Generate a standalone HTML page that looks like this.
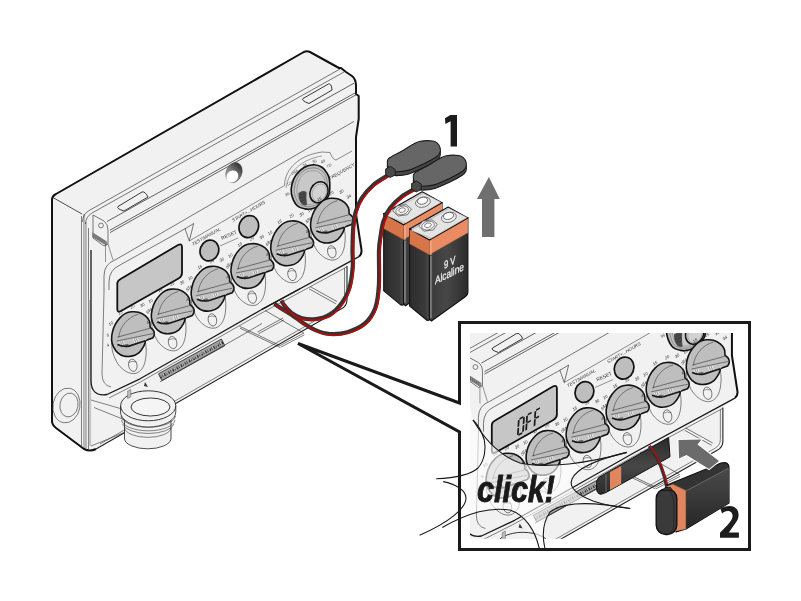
<!DOCTYPE html>
<html><head><meta charset="utf-8"><style>
html,body{margin:0;padding:0;background:#fff;width:801px;height:601px;overflow:hidden}
svg{display:block;font-family:"Liberation Sans",sans-serif;will-change:transform}
</style></head><body>
<svg width="801" height="601" viewBox="0 0 801 601" font-family="Liberation Sans, sans-serif">
<defs>
<linearGradient id="hg" x1="0.3" y1="0" x2="0" y2="1"><stop offset="0" stop-color="#3c3c3c"/><stop offset="0.6" stop-color="#999"/><stop offset="1" stop-color="#ddd"/></linearGradient>
<linearGradient id="bd2" x1="0" y1="0" x2="0" y2="1"><stop offset="0" stop-color="#2a2a2a"/><stop offset="0.5" stop-color="#474747"/><stop offset="1" stop-color="#2a2a2a"/></linearGradient>
<linearGradient id="bd3" x1="0" y1="0" x2="0" y2="1"><stop offset="0" stop-color="#4a4a4a"/><stop offset="0.4" stop-color="#3c3c3c"/><stop offset="1" stop-color="#262626"/></linearGradient>
<linearGradient id="bd" x1="0" y1="0" x2="1" y2="0"><stop offset="0" stop-color="#555"/><stop offset="0.1" stop-color="#3c3c3c"/><stop offset="0.45" stop-color="#474747"/><stop offset="1" stop-color="#2c2c2c"/></linearGradient>
<linearGradient id="bl" x1="0" y1="0" x2="1" y2="0"><stop offset="0" stop-color="#2c2c2c"/><stop offset="0.8" stop-color="#3a3a3a"/><stop offset="1" stop-color="#505050"/></linearGradient>
</defs>
<rect width="801" height="601" fill="#fff"/>
<path d="M52,200 Q52,196 56,194 L302,53 Q306,50 310,52 L339,68 L341,68 L346,72 L352,76 Q356,79 356,86 L356,94 L358.7,96 L358.7,119 L356,137 L356,214 L361.5,250 Q362,254 359,256.5 L347,266 L347,300 Q347,306 341,309 L96,449 Q90,452 84,449 L56,428 Q52,425 52,421 Z" fill="#f1f1f1"/>
<path d="M96,449 Q90,452 84,449 L56,428 Q52,425 52,421 L52,200 Q52,196 56,194 L302,53 Q306,50 310,52 L339,68 L341,68 L346,72 L352,76 Q356,79 356,86 L356,94 L358.7,96 L358.7,119 L356,137 L356,214 L361.5,250 Q362,254 359,256.5" fill="none" stroke="#111" stroke-width="2" stroke-linejoin="round"/>
<path d="M96,449 L341,309 Q347,306 347,300 L347,266" fill="none" stroke="#222" stroke-width="1.1"/>
<path d="M100,444 L338,307.5 Q344.5,304 344.5,298 L344.5,268" fill="none" stroke="#333" stroke-width="0.6"/>
<path d="M52.0,197.0 L82.0,214.0" stroke="#222" stroke-width="0.8" fill="none"/>
<path d="M81.5,216 L81.5,447 M84,214 L84,448 M86,222 L86,448 M88.5,228 L88.5,449" stroke="#333" stroke-width="0.6" fill="none"/>
<path d="M90,300 L90,446" stroke="#c4c4c4" stroke-width="2.2" fill="none"/>
<ellipse cx="66.5" cy="405.5" rx="13.5" ry="17.5" transform="rotate(10 66.5 405.5)" fill="none" stroke="#333" stroke-width="0.6"/>
<ellipse cx="69" cy="405" rx="9" ry="12" transform="rotate(10 69 405)" fill="none" stroke="#333" stroke-width="0.6"/>
<path d="M82.5,222 Q82.5,214 90,210 L340,69" stroke="#222" stroke-width="0.6" fill="none"/>
<path d="M85.5,224 Q85.5,217 92,213 L344,72" stroke="#222" stroke-width="0.6" fill="none"/>
<path d="M107.0,221.5 L354.0,83.2" stroke="#222" stroke-width="0.7" fill="none"/>
<path d="M110.0,230.2 L356.0,92.4" stroke="#222" stroke-width="0.7" fill="none"/>
<path d="M110.0,232.6 L356.0,94.8" stroke="#222" stroke-width="0.7" fill="none"/>
<path d="M93,215 L104,221 Q108,224 108,230 L108,244 L104,246 L93,238 Z" fill="#f1f1f1" stroke="#222" stroke-width="0.6"/>
<circle cx="101" cy="225.5" r="2.4" fill="none" stroke="#333" stroke-width="0.6"/>
<path d="M92,232 L107,241.5 L107,246 L92,237 Z" fill="#8a8a8a"/>
<path d="M94,233.5 L94,237.5 M96,234.8 L96,238.8 M98,236 L98,240 M100,237.3 L100,241.3 M102,238.6 L102,242.6 M104,239.9 L104,243.9" stroke="#444" stroke-width="0.5"/>
<path d="M118,206.5 L142,192 Q145,191 148,197 L124,211 Q116,208.5 118,206.5 Z" fill="#f1f1f1" stroke="#222" stroke-width="0.9"/>
<path d="M303,98.5 L328.4,84 Q331.4,83 332.1,90 L309,103.5 Q301,100.5 303,98.5 Z" fill="#f1f1f1" stroke="#222" stroke-width="0.9"/>
<ellipse cx="234" cy="172.6" rx="7.8" ry="10.4" transform="rotate(22 234 172.6)" fill="url(#hg)" stroke="#444" stroke-width="0.5"/>
<ellipse cx="232.3" cy="176.5" rx="5.6" ry="6.4" transform="rotate(40 232.3 176.5)" fill="#fff"/>
<path d="M104,292 L104,276 Q104,264 115,260 L354,121.4" fill="none" stroke="#222" stroke-width="0.6"/>
<path d="M109,290 L109,282 Q109,270 120,265 L186,228.2" fill="none" stroke="#222" stroke-width="0.6"/>
<path d="M185,228.8 L193.7,223.5 L189.3,241 Z" fill="#f1f1f1" stroke="#222" stroke-width="0.6" stroke-linejoin="round"/>
<path d="M108,244 L113,260 M105.5,244 L105.5,262" fill="none" stroke="#333" stroke-width="0.5"/>
<path d="M91,250 L91,380 Q91,397 107,394.5 L140,378.8 L200,344.8 L260,310.5 L359,256.6" fill="none" stroke="#1a1a1a" stroke-width="1.3" stroke-linejoin="round"/>
<path d="M104,292 L102,374 Q102,385 111,387" fill="none" stroke="#333" stroke-width="0.6"/>
<path d="M109,398 L140,382.2 L200,348.2 L260,313.9 L347,266.8" fill="none" stroke="#333" stroke-width="0.6"/>
<path d="M189.3,241 L284.5,185.5 C285,168 300,155 322,152 L330,152.5 Q333,160 336,160 L352,151" fill="none" stroke="#333" stroke-width="0.55"/>
<path d="M286,188 C288,171 303,159 322,156" fill="none" stroke="#333" stroke-width="0.45"/>
<path d="M121,278.8 L178,245 Q182,243 182,247 L182,273 Q182,276.5 178.5,278.5 L121,311 Q117.3,313 117.3,309 L117.3,283.5 Q117.3,280.8 121,278.8 Z" fill="#c6c6c6" stroke="#111" stroke-width="1.8"/>
<ellipse cx="209.4" cy="250.5" rx="9.2" ry="10.6" transform="rotate(20 209.4 250.5)" fill="#bebebe" stroke="#111" stroke-width="1.7"/>
<ellipse cx="248.8" cy="226.6" rx="9.6" ry="11.2" transform="rotate(20 248.8 226.6)" fill="#bebebe" stroke="#111" stroke-width="1.7"/>
<text transform="translate(193,246) rotate(-30)" font-size="4.6" fill="#333" font-style="italic">TEST/MANUAL</text>
<text transform="translate(222,240) rotate(-24)" font-size="5" fill="#333">RESET</text>
<path d="M220,246 L238,238" stroke="#333" stroke-width="0.5"/>
<text transform="translate(233,222) rotate(-30)" font-size="4.6" fill="#333" font-style="italic">START+...HOURS</text>
<text transform="translate(330,180) rotate(-30)" font-size="4.6" fill="#333" font-style="italic">FREQUENCY</text>
<path d="M291.40,193.70 C292.20,197.25 294.53,202.77 296.80,205.30 C299.07,207.83 302.30,208.37 305.00,208.90 C307.70,209.43 310.17,209.32 313.00,208.50 C315.83,207.68 319.42,206.08 322.00,204.00 C324.58,201.92 327.20,198.67 328.50,196.00 C329.80,193.33 329.67,190.88 329.80,188.00 C329.93,185.12 329.73,181.12 329.30,178.70 C328.87,176.28 328.42,175.42 327.20,173.50 C325.98,171.58 324.28,168.65 322.00,167.20 C319.72,165.75 316.50,164.75 313.50,164.80 C310.50,164.85 306.92,165.80 304.00,167.50 C301.08,169.20 298.00,172.25 296.00,175.00 C294.00,177.75 292.77,180.88 292.00,184.00 C291.23,187.12 290.60,190.15 291.40,193.70 Z" fill="#bdbdbd" stroke="#111" stroke-width="1.6"/>
<path d="M294.50,193.50 C295.13,196.58 296.88,201.33 298.80,203.50 C300.72,205.67 303.63,206.08 306.00,206.50 C308.37,206.92 310.50,206.75 313.00,206.00 C315.50,205.25 318.67,203.92 321.00,202.00 C323.33,200.08 325.92,197.17 327.00,194.50 C328.08,191.83 327.58,188.67 327.50,186.00 C327.42,183.33 327.08,180.67 326.50,178.50 C325.92,176.33 325.33,174.58 324.00,173.00 C322.67,171.42 320.50,169.83 318.50,169.00 C316.50,168.17 314.42,167.75 312.00,168.00 C309.58,168.25 306.33,169.00 304.00,170.50 C301.67,172.00 299.50,174.58 298.00,177.00 C296.50,179.42 295.58,182.25 295.00,185.00 C294.42,187.75 293.87,190.42 294.50,193.50 Z" fill="#c4c4c4" stroke="#666" stroke-width="0.6"/>
<path d="M297.00,193.50 C297.50,196.17 298.92,200.17 300.50,202.00 C302.08,203.83 304.42,204.17 306.50,204.50 C308.58,204.83 310.75,204.67 313.00,204.00 C315.25,203.33 318.00,202.17 320.00,200.50 C322.00,198.83 324.08,196.33 325.00,194.00 C325.92,191.67 325.58,188.92 325.50,186.50 C325.42,184.08 325.08,181.42 324.50,179.50 C323.92,177.58 323.17,176.33 322.00,175.00 C320.83,173.67 319.25,172.20 317.50,171.50 C315.75,170.80 313.58,170.55 311.50,170.80 C309.42,171.05 306.92,171.72 305.00,173.00 C303.08,174.28 301.25,176.33 300.00,178.50 C298.75,180.67 298.00,183.50 297.50,186.00 C297.00,188.50 296.50,190.83 297.00,193.50 Z" fill="#c8c8c8" stroke="#777" stroke-width="0.5"/>
<path d="M298.5,193 Q298,200 302,204.5 Q305,206 307,205 Q306,198 306.5,192 Q303,189.5 298.5,193 Z" fill="#4a4a4a"/>
<path d="M300,195 L305,193.5 M299.5,198 L305.5,196.5 M300.5,201 L306,199.5" stroke="#2a2a2a" stroke-width="0.5"/>
<ellipse cx="319" cy="192.2" rx="8.7" ry="10.8" transform="rotate(25 319 192.2)" fill="#d2d2d2" stroke="#111" stroke-width="1.5"/>
<ellipse cx="319.3" cy="192.6" rx="6.8" ry="8.9" transform="rotate(25 319.3 192.6)" fill="none" stroke="#888" stroke-width="0.5"/>
<text transform="translate(286,196.5) rotate(-30)" font-size="4" fill="#444" font-style="italic">96</text>
<text transform="translate(287.5,186) rotate(-30)" font-size="4" fill="#444" font-style="italic">12A</text>
<text transform="translate(292.5,175) rotate(-30)" font-size="4" fill="#444" font-style="italic">24A</text>
<text transform="translate(303.5,167.5) rotate(-30)" font-size="4" fill="#444" font-style="italic">36</text>
<text transform="translate(313,163.8) rotate(-30)" font-size="4" fill="#444" font-style="italic">36</text>
<text transform="translate(321.5,163.8) rotate(-30)" font-size="4" fill="#444" font-style="italic">48</text>
<text transform="translate(327.5,168) rotate(-30)" font-size="4" fill="#444" font-style="italic">7D</text>
<g transform="translate(132.0,335.0)">
<path d="M-20.20,8.00 C-20.05,9.50 -20.33,13.50 -19.30,17.00 C-18.27,20.50 -16.38,25.67 -14.00,29.00 C-11.62,32.33 -8.00,35.45 -5.00,37.00 C-2.00,38.55 1.42,38.97 4.00,38.30 C6.58,37.63 8.90,35.38 10.50,33.00 C12.10,30.62 12.98,27.17 13.60,24.00 C14.22,20.83 14.27,17.00 14.20,14.00 C14.13,11.00 13.37,7.33 13.20,6.00" fill="none" stroke="#333" stroke-width="0.6"/>
<ellipse cx="0.8" cy="30.3" rx="4.2" ry="6.2" transform="rotate(-12 0.8 30.3)" fill="none" stroke="#333" stroke-width="0.6"/>
<path d="M-3.2,27.5 Q0,25.5 4.5,27" stroke="#333" stroke-width="0.5" fill="none"/>
<path d="M-20.40,5.10 C-20.57,2.68 -20.23,-0.23 -19.60,-2.90 C-18.97,-5.57 -17.93,-8.45 -16.60,-10.90 C-15.27,-13.35 -13.30,-15.82 -11.60,-17.60 C-9.90,-19.38 -8.27,-20.67 -6.40,-21.60 C-4.53,-22.53 -2.57,-23.02 -0.40,-23.20 C1.77,-23.38 4.30,-23.37 6.60,-22.70 C8.90,-22.03 11.60,-20.67 13.40,-19.20 C15.20,-17.73 16.62,-15.78 17.40,-13.90 C18.18,-12.02 18.10,-7.90 18.10,-7.90 C18.10,-7.90 20.90,-5.65 21.60,-4.40 C22.30,-3.15 22.47,-1.65 22.30,-0.40 C22.13,0.85 20.60,3.10 20.60,3.10 C20.60,3.10 13.60,5.60 13.60,5.60 C13.60,5.60 12.93,9.07 11.80,11.10 C10.67,13.13 8.83,16.13 6.80,17.80 C4.77,19.47 2.13,20.57 -0.40,21.10 C-2.93,21.63 -6.07,21.58 -8.40,21.00 C-10.73,20.42 -12.70,19.17 -14.40,17.60 C-16.10,16.03 -17.60,13.68 -18.60,11.60 C-19.60,9.52 -20.23,7.52 -20.40,5.10 Z" fill="#bebebe" stroke="#141414" stroke-width="1.6" stroke-linejoin="round"/>
<path d="M-13.4,2.6 C-12,-9 -4,-18 6.6,-20.9" fill="none" stroke="#333" stroke-width="0.55"/>
<path d="M-14.4,2.1 L18.6,-6.9" stroke="#333" stroke-width="0.6"/>
<path d="M-14.2,6.4 L19.5,-1.2 L13.4,5.7 L-3,10.6 Q-9,11.6 -14.3,9.4 Z" fill="#c4c4c4"/>
<path d="M-12.8,6.6 L-11,9.8 M-10.8,6.1 L-9,10.4 M-8.8,5.7 L-7.2,10.7 M1.3,3.7 L2.8,7.8 M3.3,3.3 L4.8,7.2 M5.3,2.9 L6.6,6.6" stroke="#efefef" stroke-width="0.9"/>
<path d="M-11.8,6.4 L-10,10.1 M-9.8,5.9 L-8.1,10.6 M2.3,3.5 L3.8,7.5 M4.3,3.1 L5.7,6.9" stroke="#666" stroke-width="0.45"/>
<ellipse cx="-5.6" cy="10.2" rx="2.6" ry="1.2" transform="rotate(-8 -5.6 10.2)" fill="#6a6a6a"/>
<path d="M-15.4,6.1 L20.9,-1.4" stroke="#333" stroke-width="0.6"/>
<path d="M-14.6,9.6 Q-9,12.2 -3,11.1 L13.4,5.7" fill="none" stroke="#161616" stroke-width="1.6"/>
</g>
<text transform="translate(109.5,326.0) rotate(-30)" font-size="4.2" font-style="italic" fill="#2a2a2a">10</text>
<text transform="translate(119.0,315.0) rotate(-30)" font-size="4.2" font-style="italic" fill="#2a2a2a">15</text>
<text transform="translate(131.0,309.0) rotate(-30)" font-size="4.2" font-style="italic" fill="#2a2a2a">20</text>
<text transform="translate(141.0,307.5) rotate(-30)" font-size="4.2" font-style="italic" fill="#2a2a2a">30</text>
<text transform="translate(148.5,312.5) rotate(-30)" font-size="4.2" font-style="italic" fill="#2a2a2a">34</text>
<text transform="translate(107.5,337.0) rotate(-30)" font-size="4.2" font-style="italic" fill="#2a2a2a">5</text>
<text transform="translate(107.5,347.0) rotate(-30)" font-size="4.2" font-style="italic" fill="#2a2a2a">4</text>
<g transform="translate(171.8,312.3)">
<path d="M-20.20,8.00 C-20.05,9.50 -20.33,13.50 -19.30,17.00 C-18.27,20.50 -16.38,25.67 -14.00,29.00 C-11.62,32.33 -8.00,35.45 -5.00,37.00 C-2.00,38.55 1.42,38.97 4.00,38.30 C6.58,37.63 8.90,35.38 10.50,33.00 C12.10,30.62 12.98,27.17 13.60,24.00 C14.22,20.83 14.27,17.00 14.20,14.00 C14.13,11.00 13.37,7.33 13.20,6.00" fill="none" stroke="#333" stroke-width="0.6"/>
<ellipse cx="0.8" cy="30.3" rx="4.2" ry="6.2" transform="rotate(-12 0.8 30.3)" fill="none" stroke="#333" stroke-width="0.6"/>
<path d="M-3.2,27.5 Q0,25.5 4.5,27" stroke="#333" stroke-width="0.5" fill="none"/>
<path d="M-20.40,5.10 C-20.57,2.68 -20.23,-0.23 -19.60,-2.90 C-18.97,-5.57 -17.93,-8.45 -16.60,-10.90 C-15.27,-13.35 -13.30,-15.82 -11.60,-17.60 C-9.90,-19.38 -8.27,-20.67 -6.40,-21.60 C-4.53,-22.53 -2.57,-23.02 -0.40,-23.20 C1.77,-23.38 4.30,-23.37 6.60,-22.70 C8.90,-22.03 11.60,-20.67 13.40,-19.20 C15.20,-17.73 16.62,-15.78 17.40,-13.90 C18.18,-12.02 18.10,-7.90 18.10,-7.90 C18.10,-7.90 20.90,-5.65 21.60,-4.40 C22.30,-3.15 22.47,-1.65 22.30,-0.40 C22.13,0.85 20.60,3.10 20.60,3.10 C20.60,3.10 13.60,5.60 13.60,5.60 C13.60,5.60 12.93,9.07 11.80,11.10 C10.67,13.13 8.83,16.13 6.80,17.80 C4.77,19.47 2.13,20.57 -0.40,21.10 C-2.93,21.63 -6.07,21.58 -8.40,21.00 C-10.73,20.42 -12.70,19.17 -14.40,17.60 C-16.10,16.03 -17.60,13.68 -18.60,11.60 C-19.60,9.52 -20.23,7.52 -20.40,5.10 Z" fill="#bebebe" stroke="#141414" stroke-width="1.6" stroke-linejoin="round"/>
<path d="M-13.4,2.6 C-12,-9 -4,-18 6.6,-20.9" fill="none" stroke="#333" stroke-width="0.55"/>
<path d="M-14.4,2.1 L18.6,-6.9" stroke="#333" stroke-width="0.6"/>
<path d="M-14.2,6.4 L19.5,-1.2 L13.4,5.7 L-3,10.6 Q-9,11.6 -14.3,9.4 Z" fill="#c4c4c4"/>
<path d="M-12.8,6.6 L-11,9.8 M-10.8,6.1 L-9,10.4 M-8.8,5.7 L-7.2,10.7 M1.3,3.7 L2.8,7.8 M3.3,3.3 L4.8,7.2 M5.3,2.9 L6.6,6.6" stroke="#efefef" stroke-width="0.9"/>
<path d="M-11.8,6.4 L-10,10.1 M-9.8,5.9 L-8.1,10.6 M2.3,3.5 L3.8,7.5 M4.3,3.1 L5.7,6.9" stroke="#666" stroke-width="0.45"/>
<ellipse cx="-5.6" cy="10.2" rx="2.6" ry="1.2" transform="rotate(-8 -5.6 10.2)" fill="#6a6a6a"/>
<path d="M-15.4,6.1 L20.9,-1.4" stroke="#333" stroke-width="0.6"/>
<path d="M-14.6,9.6 Q-9,12.2 -3,11.1 L13.4,5.7" fill="none" stroke="#161616" stroke-width="1.6"/>
</g>
<text transform="translate(149.3,303.3) rotate(-30)" font-size="4.2" font-style="italic" fill="#2a2a2a">10</text>
<text transform="translate(158.8,292.3) rotate(-30)" font-size="4.2" font-style="italic" fill="#2a2a2a">15</text>
<text transform="translate(170.8,286.3) rotate(-30)" font-size="4.2" font-style="italic" fill="#2a2a2a">20</text>
<text transform="translate(180.8,284.8) rotate(-30)" font-size="4.2" font-style="italic" fill="#2a2a2a">30</text>
<text transform="translate(188.3,289.8) rotate(-30)" font-size="4.2" font-style="italic" fill="#2a2a2a">34</text>
<text transform="translate(147.3,314.3) rotate(-30)" font-size="4.2" font-style="italic" fill="#2a2a2a">5</text>
<text transform="translate(147.3,324.3) rotate(-30)" font-size="4.2" font-style="italic" fill="#2a2a2a">4</text>
<g transform="translate(211.6,289.6)">
<path d="M-20.20,8.00 C-20.05,9.50 -20.33,13.50 -19.30,17.00 C-18.27,20.50 -16.38,25.67 -14.00,29.00 C-11.62,32.33 -8.00,35.45 -5.00,37.00 C-2.00,38.55 1.42,38.97 4.00,38.30 C6.58,37.63 8.90,35.38 10.50,33.00 C12.10,30.62 12.98,27.17 13.60,24.00 C14.22,20.83 14.27,17.00 14.20,14.00 C14.13,11.00 13.37,7.33 13.20,6.00" fill="none" stroke="#333" stroke-width="0.6"/>
<ellipse cx="0.8" cy="30.3" rx="4.2" ry="6.2" transform="rotate(-12 0.8 30.3)" fill="none" stroke="#333" stroke-width="0.6"/>
<path d="M-3.2,27.5 Q0,25.5 4.5,27" stroke="#333" stroke-width="0.5" fill="none"/>
<path d="M-20.40,5.10 C-20.57,2.68 -20.23,-0.23 -19.60,-2.90 C-18.97,-5.57 -17.93,-8.45 -16.60,-10.90 C-15.27,-13.35 -13.30,-15.82 -11.60,-17.60 C-9.90,-19.38 -8.27,-20.67 -6.40,-21.60 C-4.53,-22.53 -2.57,-23.02 -0.40,-23.20 C1.77,-23.38 4.30,-23.37 6.60,-22.70 C8.90,-22.03 11.60,-20.67 13.40,-19.20 C15.20,-17.73 16.62,-15.78 17.40,-13.90 C18.18,-12.02 18.10,-7.90 18.10,-7.90 C18.10,-7.90 20.90,-5.65 21.60,-4.40 C22.30,-3.15 22.47,-1.65 22.30,-0.40 C22.13,0.85 20.60,3.10 20.60,3.10 C20.60,3.10 13.60,5.60 13.60,5.60 C13.60,5.60 12.93,9.07 11.80,11.10 C10.67,13.13 8.83,16.13 6.80,17.80 C4.77,19.47 2.13,20.57 -0.40,21.10 C-2.93,21.63 -6.07,21.58 -8.40,21.00 C-10.73,20.42 -12.70,19.17 -14.40,17.60 C-16.10,16.03 -17.60,13.68 -18.60,11.60 C-19.60,9.52 -20.23,7.52 -20.40,5.10 Z" fill="#bebebe" stroke="#141414" stroke-width="1.6" stroke-linejoin="round"/>
<path d="M-13.4,2.6 C-12,-9 -4,-18 6.6,-20.9" fill="none" stroke="#333" stroke-width="0.55"/>
<path d="M-14.4,2.1 L18.6,-6.9" stroke="#333" stroke-width="0.6"/>
<path d="M-14.2,6.4 L19.5,-1.2 L13.4,5.7 L-3,10.6 Q-9,11.6 -14.3,9.4 Z" fill="#c4c4c4"/>
<path d="M-12.8,6.6 L-11,9.8 M-10.8,6.1 L-9,10.4 M-8.8,5.7 L-7.2,10.7 M1.3,3.7 L2.8,7.8 M3.3,3.3 L4.8,7.2 M5.3,2.9 L6.6,6.6" stroke="#efefef" stroke-width="0.9"/>
<path d="M-11.8,6.4 L-10,10.1 M-9.8,5.9 L-8.1,10.6 M2.3,3.5 L3.8,7.5 M4.3,3.1 L5.7,6.9" stroke="#666" stroke-width="0.45"/>
<ellipse cx="-5.6" cy="10.2" rx="2.6" ry="1.2" transform="rotate(-8 -5.6 10.2)" fill="#6a6a6a"/>
<path d="M-15.4,6.1 L20.9,-1.4" stroke="#333" stroke-width="0.6"/>
<path d="M-14.6,9.6 Q-9,12.2 -3,11.1 L13.4,5.7" fill="none" stroke="#161616" stroke-width="1.6"/>
</g>
<text transform="translate(189.1,280.6) rotate(-30)" font-size="4.2" font-style="italic" fill="#2a2a2a">10</text>
<text transform="translate(198.6,269.6) rotate(-30)" font-size="4.2" font-style="italic" fill="#2a2a2a">15</text>
<text transform="translate(210.6,263.6) rotate(-30)" font-size="4.2" font-style="italic" fill="#2a2a2a">20</text>
<text transform="translate(220.6,262.1) rotate(-30)" font-size="4.2" font-style="italic" fill="#2a2a2a">30</text>
<text transform="translate(228.1,267.1) rotate(-30)" font-size="4.2" font-style="italic" fill="#2a2a2a">34</text>
<text transform="translate(187.1,291.6) rotate(-30)" font-size="4.2" font-style="italic" fill="#2a2a2a">5</text>
<text transform="translate(187.1,301.6) rotate(-30)" font-size="4.2" font-style="italic" fill="#2a2a2a">4</text>
<g transform="translate(251.4,266.9)">
<path d="M-20.20,8.00 C-20.05,9.50 -20.33,13.50 -19.30,17.00 C-18.27,20.50 -16.38,25.67 -14.00,29.00 C-11.62,32.33 -8.00,35.45 -5.00,37.00 C-2.00,38.55 1.42,38.97 4.00,38.30 C6.58,37.63 8.90,35.38 10.50,33.00 C12.10,30.62 12.98,27.17 13.60,24.00 C14.22,20.83 14.27,17.00 14.20,14.00 C14.13,11.00 13.37,7.33 13.20,6.00" fill="none" stroke="#333" stroke-width="0.6"/>
<ellipse cx="0.8" cy="30.3" rx="4.2" ry="6.2" transform="rotate(-12 0.8 30.3)" fill="none" stroke="#333" stroke-width="0.6"/>
<path d="M-3.2,27.5 Q0,25.5 4.5,27" stroke="#333" stroke-width="0.5" fill="none"/>
<path d="M-20.40,5.10 C-20.57,2.68 -20.23,-0.23 -19.60,-2.90 C-18.97,-5.57 -17.93,-8.45 -16.60,-10.90 C-15.27,-13.35 -13.30,-15.82 -11.60,-17.60 C-9.90,-19.38 -8.27,-20.67 -6.40,-21.60 C-4.53,-22.53 -2.57,-23.02 -0.40,-23.20 C1.77,-23.38 4.30,-23.37 6.60,-22.70 C8.90,-22.03 11.60,-20.67 13.40,-19.20 C15.20,-17.73 16.62,-15.78 17.40,-13.90 C18.18,-12.02 18.10,-7.90 18.10,-7.90 C18.10,-7.90 20.90,-5.65 21.60,-4.40 C22.30,-3.15 22.47,-1.65 22.30,-0.40 C22.13,0.85 20.60,3.10 20.60,3.10 C20.60,3.10 13.60,5.60 13.60,5.60 C13.60,5.60 12.93,9.07 11.80,11.10 C10.67,13.13 8.83,16.13 6.80,17.80 C4.77,19.47 2.13,20.57 -0.40,21.10 C-2.93,21.63 -6.07,21.58 -8.40,21.00 C-10.73,20.42 -12.70,19.17 -14.40,17.60 C-16.10,16.03 -17.60,13.68 -18.60,11.60 C-19.60,9.52 -20.23,7.52 -20.40,5.10 Z" fill="#bebebe" stroke="#141414" stroke-width="1.6" stroke-linejoin="round"/>
<path d="M-13.4,2.6 C-12,-9 -4,-18 6.6,-20.9" fill="none" stroke="#333" stroke-width="0.55"/>
<path d="M-14.4,2.1 L18.6,-6.9" stroke="#333" stroke-width="0.6"/>
<path d="M-14.2,6.4 L19.5,-1.2 L13.4,5.7 L-3,10.6 Q-9,11.6 -14.3,9.4 Z" fill="#c4c4c4"/>
<path d="M-12.8,6.6 L-11,9.8 M-10.8,6.1 L-9,10.4 M-8.8,5.7 L-7.2,10.7 M1.3,3.7 L2.8,7.8 M3.3,3.3 L4.8,7.2 M5.3,2.9 L6.6,6.6" stroke="#efefef" stroke-width="0.9"/>
<path d="M-11.8,6.4 L-10,10.1 M-9.8,5.9 L-8.1,10.6 M2.3,3.5 L3.8,7.5 M4.3,3.1 L5.7,6.9" stroke="#666" stroke-width="0.45"/>
<ellipse cx="-5.6" cy="10.2" rx="2.6" ry="1.2" transform="rotate(-8 -5.6 10.2)" fill="#6a6a6a"/>
<path d="M-15.4,6.1 L20.9,-1.4" stroke="#333" stroke-width="0.6"/>
<path d="M-14.6,9.6 Q-9,12.2 -3,11.1 L13.4,5.7" fill="none" stroke="#161616" stroke-width="1.6"/>
</g>
<text transform="translate(228.9,257.9) rotate(-30)" font-size="4.2" font-style="italic" fill="#2a2a2a">10</text>
<text transform="translate(238.4,246.9) rotate(-30)" font-size="4.2" font-style="italic" fill="#2a2a2a">15</text>
<text transform="translate(250.4,240.9) rotate(-30)" font-size="4.2" font-style="italic" fill="#2a2a2a">20</text>
<text transform="translate(260.4,239.4) rotate(-30)" font-size="4.2" font-style="italic" fill="#2a2a2a">30</text>
<text transform="translate(267.9,244.4) rotate(-30)" font-size="4.2" font-style="italic" fill="#2a2a2a">34</text>
<text transform="translate(226.9,268.9) rotate(-30)" font-size="4.2" font-style="italic" fill="#2a2a2a">5</text>
<text transform="translate(226.9,278.9) rotate(-30)" font-size="4.2" font-style="italic" fill="#2a2a2a">4</text>
<g transform="translate(291.2,244.2)">
<path d="M-20.20,8.00 C-20.05,9.50 -20.33,13.50 -19.30,17.00 C-18.27,20.50 -16.38,25.67 -14.00,29.00 C-11.62,32.33 -8.00,35.45 -5.00,37.00 C-2.00,38.55 1.42,38.97 4.00,38.30 C6.58,37.63 8.90,35.38 10.50,33.00 C12.10,30.62 12.98,27.17 13.60,24.00 C14.22,20.83 14.27,17.00 14.20,14.00 C14.13,11.00 13.37,7.33 13.20,6.00" fill="none" stroke="#333" stroke-width="0.6"/>
<ellipse cx="0.8" cy="30.3" rx="4.2" ry="6.2" transform="rotate(-12 0.8 30.3)" fill="none" stroke="#333" stroke-width="0.6"/>
<path d="M-3.2,27.5 Q0,25.5 4.5,27" stroke="#333" stroke-width="0.5" fill="none"/>
<path d="M-20.40,5.10 C-20.57,2.68 -20.23,-0.23 -19.60,-2.90 C-18.97,-5.57 -17.93,-8.45 -16.60,-10.90 C-15.27,-13.35 -13.30,-15.82 -11.60,-17.60 C-9.90,-19.38 -8.27,-20.67 -6.40,-21.60 C-4.53,-22.53 -2.57,-23.02 -0.40,-23.20 C1.77,-23.38 4.30,-23.37 6.60,-22.70 C8.90,-22.03 11.60,-20.67 13.40,-19.20 C15.20,-17.73 16.62,-15.78 17.40,-13.90 C18.18,-12.02 18.10,-7.90 18.10,-7.90 C18.10,-7.90 20.90,-5.65 21.60,-4.40 C22.30,-3.15 22.47,-1.65 22.30,-0.40 C22.13,0.85 20.60,3.10 20.60,3.10 C20.60,3.10 13.60,5.60 13.60,5.60 C13.60,5.60 12.93,9.07 11.80,11.10 C10.67,13.13 8.83,16.13 6.80,17.80 C4.77,19.47 2.13,20.57 -0.40,21.10 C-2.93,21.63 -6.07,21.58 -8.40,21.00 C-10.73,20.42 -12.70,19.17 -14.40,17.60 C-16.10,16.03 -17.60,13.68 -18.60,11.60 C-19.60,9.52 -20.23,7.52 -20.40,5.10 Z" fill="#bebebe" stroke="#141414" stroke-width="1.6" stroke-linejoin="round"/>
<path d="M-13.4,2.6 C-12,-9 -4,-18 6.6,-20.9" fill="none" stroke="#333" stroke-width="0.55"/>
<path d="M-14.4,2.1 L18.6,-6.9" stroke="#333" stroke-width="0.6"/>
<path d="M-14.2,6.4 L19.5,-1.2 L13.4,5.7 L-3,10.6 Q-9,11.6 -14.3,9.4 Z" fill="#c4c4c4"/>
<path d="M-12.8,6.6 L-11,9.8 M-10.8,6.1 L-9,10.4 M-8.8,5.7 L-7.2,10.7 M1.3,3.7 L2.8,7.8 M3.3,3.3 L4.8,7.2 M5.3,2.9 L6.6,6.6" stroke="#efefef" stroke-width="0.9"/>
<path d="M-11.8,6.4 L-10,10.1 M-9.8,5.9 L-8.1,10.6 M2.3,3.5 L3.8,7.5 M4.3,3.1 L5.7,6.9" stroke="#666" stroke-width="0.45"/>
<ellipse cx="-5.6" cy="10.2" rx="2.6" ry="1.2" transform="rotate(-8 -5.6 10.2)" fill="#6a6a6a"/>
<path d="M-15.4,6.1 L20.9,-1.4" stroke="#333" stroke-width="0.6"/>
<path d="M-14.6,9.6 Q-9,12.2 -3,11.1 L13.4,5.7" fill="none" stroke="#161616" stroke-width="1.6"/>
</g>
<text transform="translate(268.7,235.2) rotate(-30)" font-size="4.2" font-style="italic" fill="#2a2a2a">10</text>
<text transform="translate(278.2,224.2) rotate(-30)" font-size="4.2" font-style="italic" fill="#2a2a2a">15</text>
<text transform="translate(290.2,218.2) rotate(-30)" font-size="4.2" font-style="italic" fill="#2a2a2a">20</text>
<text transform="translate(300.2,216.7) rotate(-30)" font-size="4.2" font-style="italic" fill="#2a2a2a">30</text>
<text transform="translate(307.7,221.7) rotate(-30)" font-size="4.2" font-style="italic" fill="#2a2a2a">34</text>
<text transform="translate(266.7,246.2) rotate(-30)" font-size="4.2" font-style="italic" fill="#2a2a2a">5</text>
<text transform="translate(266.7,256.2) rotate(-30)" font-size="4.2" font-style="italic" fill="#2a2a2a">4</text>
<g transform="translate(331.0,221.5)">
<path d="M-20.20,8.00 C-20.05,9.50 -20.33,13.50 -19.30,17.00 C-18.27,20.50 -16.38,25.67 -14.00,29.00 C-11.62,32.33 -8.00,35.45 -5.00,37.00 C-2.00,38.55 1.42,38.97 4.00,38.30 C6.58,37.63 8.90,35.38 10.50,33.00 C12.10,30.62 12.98,27.17 13.60,24.00 C14.22,20.83 14.27,17.00 14.20,14.00 C14.13,11.00 13.37,7.33 13.20,6.00" fill="none" stroke="#333" stroke-width="0.6"/>
<ellipse cx="0.8" cy="30.3" rx="4.2" ry="6.2" transform="rotate(-12 0.8 30.3)" fill="none" stroke="#333" stroke-width="0.6"/>
<path d="M-3.2,27.5 Q0,25.5 4.5,27" stroke="#333" stroke-width="0.5" fill="none"/>
<path d="M-20.40,5.10 C-20.57,2.68 -20.23,-0.23 -19.60,-2.90 C-18.97,-5.57 -17.93,-8.45 -16.60,-10.90 C-15.27,-13.35 -13.30,-15.82 -11.60,-17.60 C-9.90,-19.38 -8.27,-20.67 -6.40,-21.60 C-4.53,-22.53 -2.57,-23.02 -0.40,-23.20 C1.77,-23.38 4.30,-23.37 6.60,-22.70 C8.90,-22.03 11.60,-20.67 13.40,-19.20 C15.20,-17.73 16.62,-15.78 17.40,-13.90 C18.18,-12.02 18.10,-7.90 18.10,-7.90 C18.10,-7.90 20.90,-5.65 21.60,-4.40 C22.30,-3.15 22.47,-1.65 22.30,-0.40 C22.13,0.85 20.60,3.10 20.60,3.10 C20.60,3.10 13.60,5.60 13.60,5.60 C13.60,5.60 12.93,9.07 11.80,11.10 C10.67,13.13 8.83,16.13 6.80,17.80 C4.77,19.47 2.13,20.57 -0.40,21.10 C-2.93,21.63 -6.07,21.58 -8.40,21.00 C-10.73,20.42 -12.70,19.17 -14.40,17.60 C-16.10,16.03 -17.60,13.68 -18.60,11.60 C-19.60,9.52 -20.23,7.52 -20.40,5.10 Z" fill="#bebebe" stroke="#141414" stroke-width="1.6" stroke-linejoin="round"/>
<path d="M-13.4,2.6 C-12,-9 -4,-18 6.6,-20.9" fill="none" stroke="#333" stroke-width="0.55"/>
<path d="M-14.4,2.1 L18.6,-6.9" stroke="#333" stroke-width="0.6"/>
<path d="M-14.2,6.4 L19.5,-1.2 L13.4,5.7 L-3,10.6 Q-9,11.6 -14.3,9.4 Z" fill="#c4c4c4"/>
<path d="M-12.8,6.6 L-11,9.8 M-10.8,6.1 L-9,10.4 M-8.8,5.7 L-7.2,10.7 M1.3,3.7 L2.8,7.8 M3.3,3.3 L4.8,7.2 M5.3,2.9 L6.6,6.6" stroke="#efefef" stroke-width="0.9"/>
<path d="M-11.8,6.4 L-10,10.1 M-9.8,5.9 L-8.1,10.6 M2.3,3.5 L3.8,7.5 M4.3,3.1 L5.7,6.9" stroke="#666" stroke-width="0.45"/>
<ellipse cx="-5.6" cy="10.2" rx="2.6" ry="1.2" transform="rotate(-8 -5.6 10.2)" fill="#6a6a6a"/>
<path d="M-15.4,6.1 L20.9,-1.4" stroke="#333" stroke-width="0.6"/>
<path d="M-14.6,9.6 Q-9,12.2 -3,11.1 L13.4,5.7" fill="none" stroke="#161616" stroke-width="1.6"/>
</g>
<text transform="translate(308.5,212.5) rotate(-30)" font-size="4.2" font-style="italic" fill="#2a2a2a">10</text>
<text transform="translate(318.0,201.5) rotate(-30)" font-size="4.2" font-style="italic" fill="#2a2a2a">15</text>
<text transform="translate(330.0,195.5) rotate(-30)" font-size="4.2" font-style="italic" fill="#2a2a2a">20</text>
<text transform="translate(340.0,194.0) rotate(-30)" font-size="4.2" font-style="italic" fill="#2a2a2a">30</text>
<text transform="translate(347.5,199.0) rotate(-30)" font-size="4.2" font-style="italic" fill="#2a2a2a">34</text>
<text transform="translate(306.5,223.5) rotate(-30)" font-size="4.2" font-style="italic" fill="#2a2a2a">5</text>
<text transform="translate(306.5,233.5) rotate(-30)" font-size="4.2" font-style="italic" fill="#2a2a2a">4</text>
<path d="M158.5,373.8 L221.4,339 L224.8,345.7 L161.9,380.6 Z" fill="#a4a4a4" stroke="#222" stroke-width="0.8"/>
<path d="M160.2,377.2 L223.1,342.4" stroke="#2a2a2a" stroke-width="3" stroke-dasharray="1.3 1.1 0.7 1.6"/>
<path d="M160.5,376.2 L222.5,341.8" stroke="#eeeeee" stroke-width="0.9" stroke-dasharray="0.9 2.2"/>
<path d="M160.0,381.8 L242.4,335.0" stroke="#222" stroke-width="0.6" fill="none"/>
<path d="M239.5,326.2 L280.0,345.6" stroke="#222" stroke-width="0.6" fill="none"/>
<path d="M240.0,328.2 L280.0,347.4" stroke="#222" stroke-width="0.6" fill="none"/>
<path d="M257.5,332.0 L283.0,318.0" stroke="#222" stroke-width="0.6" fill="none"/>
<path d="M258.5,333.8 L284.0,319.8" stroke="#222" stroke-width="0.6" fill="none"/>
<path d="M280.0,345.6 L303.9,333.0" stroke="#222" stroke-width="0.6" fill="none"/>
<path d="M280.5,347.3 L304.4,334.8" stroke="#222" stroke-width="0.6" fill="none"/>
<path d="M265.0,310.4 L303.9,333.0" stroke="#222" stroke-width="0.6" fill="none"/>
<path d="M310.0,286.5 L336.9,301.5" stroke="#222" stroke-width="0.6" fill="none"/>
<path d="M309.0,288.8 L335.9,303.8" stroke="#222" stroke-width="0.6" fill="none"/>
<path d="M242.4,335.0 L262.0,323.5" stroke="#222" stroke-width="0.6" fill="none"/>
<path d="M91,400 L122,409 M94,407.5 L137,424.8 L139,426.5 L91,446" fill="none" stroke="#333" stroke-width="0.6"/>
<path d="M124.5,416 L124.5,439 A23.3,10.5 0 0 0 171,439 L171,416 Z" fill="#f1f1f1" stroke="#222" stroke-width="0.8"/>
<path d="M121,416 A27.3,12 0 0 0 175.5,416 M121.5,420 A26.8,11.5 0 0 0 175,420 M122.5,424 A26,11 0 0 0 174,424 M124.5,428 A23.3,10 0 0 0 171,428" fill="none" stroke="#333" stroke-width="0.6"/>
<path d="M120.5,405.8 L120.5,412 A27.6,15 0 0 0 175.8,412 L175.8,405.8 Z" fill="#f1f1f1" stroke="#222" stroke-width="0.8"/>
<ellipse cx="148.2" cy="405.8" rx="27.6" ry="15" fill="#f1f1f1" stroke="#222" stroke-width="0.9"/>
<ellipse cx="150.5" cy="407" rx="19.5" ry="9" fill="#f5f5f5" stroke="#222" stroke-width="0.9"/>
<path d="M127.6,391 L130.8,389.5 L130.8,397 L127.6,398.5 Z" fill="#bbb" stroke="#444" stroke-width="0.4"/>
<path d="M145,382 L148,387 L144,386 Z" fill="#333"/>
<path d="M383.7,213.8 L403.5,224.8 L403.5,304.8 Q401.5,305.8 399.5,303.8 L383.7,290.8 Q383.7,287.8 383.7,285.8 Z" fill="url(#bl)" stroke="#111" stroke-width="1.1"/>
<path d="M403.5,224.8 L442.0,202.8 L442.0,276.8 Q442.0,279.8 439.0,281.8 L405.5,305.8 Q403.5,304.8 403.5,301.8 Z" fill="url(#bd)" stroke="#111" stroke-width="1.1"/>
<path d="M383.7,213.8 L403.5,224.8 L403.5,239.8 L383.7,228.8 Z" fill="#d8744a"/>
<path d="M403.5,224.8 L442.0,202.8 L442.0,217.8 L403.5,239.8 Z" fill="#e98c63"/>
<path d="M383.7,228.8 L403.5,239.8 L442.0,217.8" fill="none" stroke="#6a3a20" stroke-width="0.6"/>
<path d="M405.0,240.8 L405.0,302.8" stroke="#8a8a8a" stroke-width="1.4"/>
<path d="M405.0,225.8 L405.0,239.8" stroke="#f5b08f" stroke-width="1.2"/>
<path d="M403.5,224.8 L442.0,202.8 L422.2,191.8 L383.7,213.8 Z" fill="#d6d6d6" stroke="#111" stroke-width="1.2" stroke-linejoin="round"/>
<path d="M405.5,223.0 L441.0,202.3 L423.2,193.3 L385.2,215.3 Z" fill="#e4e4e4" stroke="#999" stroke-width="0.5"/>
<path d="M392.8,210.9 L397.1,205.8 L406.1,204.6 L411.4,208.9 L407.6,214.7 L398.1,216.0 Z" fill="#f2f2f2" stroke="#444" stroke-width="0.7" stroke-linejoin="round"/>
<ellipse cx="402.1" cy="210.4" rx="6.5" ry="4.2" transform="rotate(-15 402.1 210.4)" fill="none" stroke="#444" stroke-width="0.6"/>
<ellipse cx="402.1" cy="210.1" rx="3.4" ry="2.2" transform="rotate(-15 402.1 210.4)" fill="#fff" stroke="#444" stroke-width="0.6"/>
<ellipse cx="422.8" cy="202.2" rx="7.6" ry="5" transform="rotate(-15 422.8 201.6)" fill="#eaeaea" stroke="#444" stroke-width="0.6"/>
<ellipse cx="422.8" cy="200.7" rx="5.2" ry="3.4" transform="rotate(-15 422.8 201.6)" fill="#fcfcfc" stroke="#444" stroke-width="0.7"/>
<path d="M409.6,229.0 L429.4,240.0 L429.4,320.0 Q427.4,321.0 425.4,319.0 L409.6,306.0 Q409.6,303.0 409.6,301.0 Z" fill="url(#bl)" stroke="#111" stroke-width="1.1"/>
<path d="M429.4,240.0 L467.9,218.0 L467.9,292.0 Q467.9,295.0 464.9,297.0 L431.4,321.0 Q429.4,320.0 429.4,317.0 Z" fill="url(#bd)" stroke="#111" stroke-width="1.1"/>
<path d="M409.6,229.0 L429.4,240.0 L429.4,255.0 L409.6,244.0 Z" fill="#d8744a"/>
<path d="M429.4,240.0 L467.9,218.0 L467.9,233.0 L429.4,255.0 Z" fill="#e98c63"/>
<path d="M409.6,244.0 L429.4,255.0 L467.9,233.0" fill="none" stroke="#6a3a20" stroke-width="0.6"/>
<path d="M430.9,256.0 L430.9,318.0" stroke="#8a8a8a" stroke-width="1.4"/>
<path d="M430.9,241.0 L430.9,255.0" stroke="#f5b08f" stroke-width="1.2"/>
<path d="M429.4,240.0 L467.9,218.0 L448.1,207.0 L409.6,229.0 Z" fill="#d6d6d6" stroke="#111" stroke-width="1.2" stroke-linejoin="round"/>
<path d="M431.4,238.2 L466.9,217.5 L449.1,208.5 L411.1,230.5 Z" fill="#e4e4e4" stroke="#999" stroke-width="0.5"/>
<path d="M418.7,226.1 L423.0,221.0 L432.0,219.8 L437.3,224.1 L433.5,229.9 L424.0,231.2 Z" fill="#f2f2f2" stroke="#444" stroke-width="0.7" stroke-linejoin="round"/>
<ellipse cx="428.0" cy="225.6" rx="6.5" ry="4.2" transform="rotate(-15 428.0 225.6)" fill="none" stroke="#444" stroke-width="0.6"/>
<ellipse cx="428.0" cy="225.3" rx="3.4" ry="2.2" transform="rotate(-15 428.0 225.6)" fill="#fff" stroke="#444" stroke-width="0.6"/>
<ellipse cx="448.7" cy="217.4" rx="7.6" ry="5" transform="rotate(-15 448.7 216.8)" fill="#eaeaea" stroke="#444" stroke-width="0.6"/>
<ellipse cx="448.7" cy="215.9" rx="5.2" ry="3.4" transform="rotate(-15 448.7 216.8)" fill="#fcfcfc" stroke="#444" stroke-width="0.7"/>
<g transform="translate(449.4,266.00000) matrix(1,-0.5,0,1,0,0)" fill="#f4f4f4" font-size="10.8" text-anchor="middle" stroke="#f4f4f4" stroke-width="0.25"><text x="0.3" y="0.3" textLength="11.5" lengthAdjust="spacingAndGlyphs">9 V</text><text x="0" y="11.2" textLength="29" lengthAdjust="spacingAndGlyphs">Alcaline</text></g>
<path d="M415.70,188.30 C413.35,189.68 405.90,193.27 401.60,196.60 C397.30,199.93 392.95,204.13 389.90,208.30 C386.85,212.47 384.82,217.17 383.30,221.60 C381.78,226.03 381.52,230.17 380.80,234.90 C380.08,239.63 379.32,241.65 379.00,250.00 C378.68,258.35 379.50,275.38 378.90,285.00 C378.30,294.62 377.73,301.30 375.40,307.70 C373.07,314.10 369.57,319.32 364.90,323.40 C360.23,327.48 353.22,330.43 347.40,332.20 C341.58,333.97 335.23,334.30 330.00,334.00 C324.77,333.70 320.38,332.17 316.00,330.40 C311.62,328.63 307.78,326.02 303.70,323.40 C299.62,320.78 295.62,317.43 291.50,314.70 C287.38,311.97 281.83,308.87 279.00,307.00 C276.17,305.13 275.25,304.08 274.50,303.50" fill="none" stroke="#333" stroke-width="4.2" stroke-linecap="butt"/><path d="M415.70,188.30 C413.35,189.68 405.90,193.27 401.60,196.60 C397.30,199.93 392.95,204.13 389.90,208.30 C386.85,212.47 384.82,217.17 383.30,221.60 C381.78,226.03 381.52,230.17 380.80,234.90 C380.08,239.63 379.32,241.65 379.00,250.00 C378.68,258.35 379.50,275.38 378.90,285.00 C378.30,294.62 377.73,301.30 375.40,307.70 C373.07,314.10 369.57,319.32 364.90,323.40 C360.23,327.48 353.22,330.43 347.40,332.20 C341.58,333.97 335.23,334.30 330.00,334.00 C324.77,333.70 320.38,332.17 316.00,330.40 C311.62,328.63 307.78,326.02 303.70,323.40 C299.62,320.78 295.62,317.43 291.50,314.70 C287.38,311.97 281.83,308.87 279.00,307.00 C276.17,305.13 275.25,304.08 274.50,303.50" fill="none" stroke="#d40000" stroke-width="1.4" stroke-linecap="butt" transform="translate(1.0,1.0)"/><path d="M389.90,174.10 C387.13,175.92 378.02,180.97 373.30,185.00 C368.58,189.03 364.52,193.87 361.60,198.30 C358.68,202.73 357.18,206.88 355.80,211.60 C354.42,216.32 353.85,220.20 353.30,226.60 C352.75,233.00 352.60,243.18 352.50,250.00 C352.40,256.82 353.25,261.08 352.70,267.50 C352.15,273.92 350.95,282.68 349.20,288.50 C347.45,294.32 345.40,298.03 342.20,302.40 C339.00,306.77 334.37,311.93 330.00,314.70 C325.63,317.47 320.67,318.42 316.00,319.00 C311.33,319.58 306.08,319.20 302.00,318.20 C297.92,317.20 294.50,315.20 291.50,313.00 C288.50,310.80 285.67,307.08 284.00,305.00 C282.33,302.92 281.92,301.25 281.50,300.50" fill="none" stroke="#333" stroke-width="4.2" stroke-linecap="butt"/><path d="M389.90,174.10 C387.13,175.92 378.02,180.97 373.30,185.00 C368.58,189.03 364.52,193.87 361.60,198.30 C358.68,202.73 357.18,206.88 355.80,211.60 C354.42,216.32 353.85,220.20 353.30,226.60 C352.75,233.00 352.60,243.18 352.50,250.00 C352.40,256.82 353.25,261.08 352.70,267.50 C352.15,273.92 350.95,282.68 349.20,288.50 C347.45,294.32 345.40,298.03 342.20,302.40 C339.00,306.77 334.37,311.93 330.00,314.70 C325.63,317.47 320.67,318.42 316.00,319.00 C311.33,319.58 306.08,319.20 302.00,318.20 C297.92,317.20 294.50,315.20 291.50,313.00 C288.50,310.80 285.67,307.08 284.00,305.00 C282.33,302.92 281.92,301.25 281.50,300.50" fill="none" stroke="#d40000" stroke-width="1.4" stroke-linecap="butt" transform="translate(1.0,1.0)"/><path d="M262,309.4 L300,288.8" stroke="#1a1a1a" stroke-width="1.3"/>
<path d="M387.30,165.80 C387.30,167.13 387.58,169.42 388.20,170.80 C388.82,172.18 389.70,173.30 391.00,174.10 C392.30,174.90 393.17,175.58 396.00,175.60 C398.83,175.62 403.17,175.63 408.00,174.20 C412.83,172.77 420.30,169.23 425.00,167.00 C429.70,164.77 433.73,162.50 436.20,160.80 C438.67,159.10 439.15,158.33 439.80,156.80 C440.45,155.27 440.52,153.23 440.10,151.60 C439.68,149.97 438.52,148.13 437.30,147.00 C436.08,145.87 435.62,145.13 432.80,144.80 C429.98,144.47 423.58,144.50 420.40,145.00 C417.22,145.50 416.68,146.22 413.70,147.80 C410.72,149.38 406.25,152.35 402.50,154.50 C398.75,156.65 393.58,159.32 391.20,160.70 C388.82,162.08 388.85,161.95 388.20,162.80 C387.55,163.65 387.30,164.47 387.30,165.80 Z" fill="#474747" stroke="#1a1a1a" stroke-width="1.1"/>
<path d="M387.30,163.90 C387.30,165.23 387.58,167.52 388.20,168.90 C388.82,170.28 389.70,171.40 391.00,172.20 C392.30,173.00 393.17,173.68 396.00,173.70 C398.83,173.72 403.17,173.73 408.00,172.30 C412.83,170.87 420.30,167.33 425.00,165.10 C429.70,162.87 433.73,160.60 436.20,158.90 C438.67,157.20 439.15,156.43 439.80,154.90 C440.45,153.37 440.52,151.33 440.10,149.70 C439.68,148.07 438.52,146.23 437.30,145.10 C436.08,143.97 435.62,143.23 432.80,142.90 C429.98,142.57 423.58,142.60 420.40,143.10 C417.22,143.60 416.68,144.32 413.70,145.90 C410.72,147.48 406.25,150.45 402.50,152.60 C398.75,154.75 393.58,157.42 391.20,158.80 C388.82,160.18 388.85,160.05 388.20,160.90 C387.55,161.75 387.30,162.57 387.30,163.90 Z" fill="#474747"/>
<path d="M387.30,162.00 C387.30,163.33 387.58,165.62 388.20,167.00 C388.82,168.38 389.70,169.50 391.00,170.30 C392.30,171.10 393.17,171.78 396.00,171.80 C398.83,171.82 403.17,171.83 408.00,170.40 C412.83,168.97 420.30,165.43 425.00,163.20 C429.70,160.97 433.73,158.70 436.20,157.00 C438.67,155.30 439.15,154.53 439.80,153.00 C440.45,151.47 440.52,149.43 440.10,147.80 C439.68,146.17 438.52,144.33 437.30,143.20 C436.08,142.07 435.62,141.33 432.80,141.00 C429.98,140.67 423.58,140.70 420.40,141.20 C417.22,141.70 416.68,142.42 413.70,144.00 C410.72,145.58 406.25,148.55 402.50,150.70 C398.75,152.85 393.58,155.52 391.20,156.90 C388.82,158.28 388.85,158.15 388.20,159.00 C387.55,159.85 387.30,160.67 387.30,162.00 Z" fill="#666" stroke="#1a1a1a" stroke-width="1.1"/>
<path d="M385.6,169.0 L390.6,166.5 L395.2,169.5 L395.2,175.0 L390.2,177.5 L385.6,174.5 Z" fill="#4a4a4a" stroke="#1a1a1a" stroke-width="0.9"/>
<path d="M413.30,180.30 C413.30,181.63 413.58,183.92 414.20,185.30 C414.82,186.68 415.70,187.80 417.00,188.60 C418.30,189.40 419.17,190.08 422.00,190.10 C424.83,190.12 429.17,190.13 434.00,188.70 C438.83,187.27 446.30,183.73 451.00,181.50 C455.70,179.27 459.73,177.00 462.20,175.30 C464.67,173.60 465.15,172.83 465.80,171.30 C466.45,169.77 466.52,167.73 466.10,166.10 C465.68,164.47 464.52,162.63 463.30,161.50 C462.08,160.37 461.62,159.63 458.80,159.30 C455.98,158.97 449.58,159.00 446.40,159.50 C443.22,160.00 442.68,160.72 439.70,162.30 C436.72,163.88 432.25,166.85 428.50,169.00 C424.75,171.15 419.58,173.82 417.20,175.20 C414.82,176.58 414.85,176.45 414.20,177.30 C413.55,178.15 413.30,178.97 413.30,180.30 Z" fill="#474747" stroke="#1a1a1a" stroke-width="1.1"/>
<path d="M413.30,178.40 C413.30,179.73 413.58,182.02 414.20,183.40 C414.82,184.78 415.70,185.90 417.00,186.70 C418.30,187.50 419.17,188.18 422.00,188.20 C424.83,188.22 429.17,188.23 434.00,186.80 C438.83,185.37 446.30,181.83 451.00,179.60 C455.70,177.37 459.73,175.10 462.20,173.40 C464.67,171.70 465.15,170.93 465.80,169.40 C466.45,167.87 466.52,165.83 466.10,164.20 C465.68,162.57 464.52,160.73 463.30,159.60 C462.08,158.47 461.62,157.73 458.80,157.40 C455.98,157.07 449.58,157.10 446.40,157.60 C443.22,158.10 442.68,158.82 439.70,160.40 C436.72,161.98 432.25,164.95 428.50,167.10 C424.75,169.25 419.58,171.92 417.20,173.30 C414.82,174.68 414.85,174.55 414.20,175.40 C413.55,176.25 413.30,177.07 413.30,178.40 Z" fill="#474747"/>
<path d="M413.30,176.50 C413.30,177.83 413.58,180.12 414.20,181.50 C414.82,182.88 415.70,184.00 417.00,184.80 C418.30,185.60 419.17,186.28 422.00,186.30 C424.83,186.32 429.17,186.33 434.00,184.90 C438.83,183.47 446.30,179.93 451.00,177.70 C455.70,175.47 459.73,173.20 462.20,171.50 C464.67,169.80 465.15,169.03 465.80,167.50 C466.45,165.97 466.52,163.93 466.10,162.30 C465.68,160.67 464.52,158.83 463.30,157.70 C462.08,156.57 461.62,155.83 458.80,155.50 C455.98,155.17 449.58,155.20 446.40,155.70 C443.22,156.20 442.68,156.92 439.70,158.50 C436.72,160.08 432.25,163.05 428.50,165.20 C424.75,167.35 419.58,170.02 417.20,171.40 C414.82,172.78 414.85,172.65 414.20,173.50 C413.55,174.35 413.30,175.17 413.30,176.50 Z" fill="#666" stroke="#1a1a1a" stroke-width="1.1"/>
<path d="M411.6,183.5 L416.6,181.0 L421.2,184.0 L421.2,189.5 L416.2,192.0 L411.6,189.0 Z" fill="#4a4a4a" stroke="#1a1a1a" stroke-width="0.9"/>
<path d="M488.9,176.9 L499.8,198.9 L494.4,198.9 L494.4,236.9 L482,236.9 L482,198.9 L476.9,198.9 Z" fill="#6f6f6f"/>
<path d="M450.3,115 L457,115 L457,146.6 L450.6,146.6 L450.6,121.2 L445.4,124 L445,118.3 Z" fill="#1c1c1c"/>
<clipPath id="ic"><rect x="470" y="333" width="279" height="205.8"/></clipPath>
<g clip-path="url(#ic)"><g transform="translate(373.8,141.5) scale(1.006,1)">
<path d="M52,200 Q52,196 56,194 L302,53 Q306,50 310,52 L339,68 L341,68 L346,72 L352,76 Q356,79 356,86 L356,94 L358.7,96 L358.7,119 L356,137 L356,214 L361.5,250 Q362,254 359,256.5 L347,266 L347,300 Q347,306 341,309 L96,449 Q90,452 84,449 L56,428 Q52,425 52,421 Z" fill="#f1f1f1"/>
<path d="M96,449 Q90,452 84,449 L56,428 Q52,425 52,421 L52,200 Q52,196 56,194 L302,53 Q306,50 310,52 L339,68 L341,68 L346,72 L352,76 Q356,79 356,86 L356,94 L358.7,96 L358.7,119 L356,137 L356,214 L361.5,250 Q362,254 359,256.5" fill="none" stroke="#111" stroke-width="2" stroke-linejoin="round"/>
<path d="M96,449 L341,309 Q347,306 347,300 L347,266" fill="none" stroke="#222" stroke-width="1.1"/>
<path d="M100,444 L338,307.5 Q344.5,304 344.5,298 L344.5,268" fill="none" stroke="#333" stroke-width="0.6"/>
<path d="M52.0,197.0 L82.0,214.0" stroke="#222" stroke-width="0.8" fill="none"/>
<path d="M81.5,216 L81.5,447 M84,214 L84,448 M86,222 L86,448 M88.5,228 L88.5,449" stroke="#333" stroke-width="0.6" fill="none"/>
<path d="M90,300 L90,446" stroke="#c4c4c4" stroke-width="2.2" fill="none"/>
<ellipse cx="66.5" cy="405.5" rx="13.5" ry="17.5" transform="rotate(10 66.5 405.5)" fill="none" stroke="#333" stroke-width="0.6"/>
<ellipse cx="69" cy="405" rx="9" ry="12" transform="rotate(10 69 405)" fill="none" stroke="#333" stroke-width="0.6"/>
<path d="M82.5,222 Q82.5,214 90,210 L340,69" stroke="#222" stroke-width="0.6" fill="none"/>
<path d="M85.5,224 Q85.5,217 92,213 L344,72" stroke="#222" stroke-width="0.6" fill="none"/>
<path d="M107.0,221.5 L354.0,83.2" stroke="#222" stroke-width="0.7" fill="none"/>
<path d="M110.0,230.2 L356.0,92.4" stroke="#222" stroke-width="0.7" fill="none"/>
<path d="M110.0,232.6 L356.0,94.8" stroke="#222" stroke-width="0.7" fill="none"/>
<path d="M93,215 L104,221 Q108,224 108,230 L108,244 L104,246 L93,238 Z" fill="#f1f1f1" stroke="#222" stroke-width="0.6"/>
<circle cx="101" cy="225.5" r="2.4" fill="none" stroke="#333" stroke-width="0.6"/>
<path d="M92,232 L107,241.5 L107,246 L92,237 Z" fill="#8a8a8a"/>
<path d="M94,233.5 L94,237.5 M96,234.8 L96,238.8 M98,236 L98,240 M100,237.3 L100,241.3 M102,238.6 L102,242.6 M104,239.9 L104,243.9" stroke="#444" stroke-width="0.5"/>
<path d="M118,206.5 L142,192 Q145,191 148,197 L124,211 Q116,208.5 118,206.5 Z" fill="#f1f1f1" stroke="#222" stroke-width="0.9"/>
<path d="M303,98.5 L328.4,84 Q331.4,83 332.1,90 L309,103.5 Q301,100.5 303,98.5 Z" fill="#f1f1f1" stroke="#222" stroke-width="0.9"/>
<ellipse cx="234" cy="172.6" rx="7.8" ry="10.4" transform="rotate(22 234 172.6)" fill="url(#hg)" stroke="#444" stroke-width="0.5"/>
<ellipse cx="232.3" cy="176.5" rx="5.6" ry="6.4" transform="rotate(40 232.3 176.5)" fill="#fff"/>
<path d="M104,292 L104,276 Q104,264 115,260 L354,121.4" fill="none" stroke="#222" stroke-width="0.6"/>
<path d="M109,290 L109,282 Q109,270 120,265 L186,228.2" fill="none" stroke="#222" stroke-width="0.6"/>
<path d="M185,228.8 L193.7,223.5 L189.3,241 Z" fill="#f1f1f1" stroke="#222" stroke-width="0.6" stroke-linejoin="round"/>
<path d="M108,244 L113,260 M105.5,244 L105.5,262" fill="none" stroke="#333" stroke-width="0.5"/>
<path d="M91,250 L91,380 Q91,397 107,394.5 L140,378.8 L200,344.8 L260,310.5 L359,256.6" fill="none" stroke="#1a1a1a" stroke-width="1.3" stroke-linejoin="round"/>
<path d="M104,292 L102,374 Q102,385 111,387" fill="none" stroke="#333" stroke-width="0.6"/>
<path d="M109,398 L140,382.2 L200,348.2 L260,313.9 L347,266.8" fill="none" stroke="#333" stroke-width="0.6"/>
<path d="M189.3,241 L284.5,185.5 C285,168 300,155 322,152 L330,152.5 Q333,160 336,160 L352,151" fill="none" stroke="#333" stroke-width="0.55"/>
<path d="M286,188 C288,171 303,159 322,156" fill="none" stroke="#333" stroke-width="0.45"/>
<path d="M121,278.8 L178,245 Q182,243 182,247 L182,273 Q182,276.5 178.5,278.5 L121,311 Q117.3,313 117.3,309 L117.3,283.5 Q117.3,280.8 121,278.8 Z" fill="#c6c6c6" stroke="#111" stroke-width="1.8"/>
<ellipse cx="209.4" cy="250.5" rx="9.2" ry="10.6" transform="rotate(20 209.4 250.5)" fill="#bebebe" stroke="#111" stroke-width="1.7"/>
<ellipse cx="248.8" cy="226.6" rx="9.6" ry="11.2" transform="rotate(20 248.8 226.6)" fill="#bebebe" stroke="#111" stroke-width="1.7"/>
<text transform="translate(193,246) rotate(-30)" font-size="4.6" fill="#333" font-style="italic">TEST/MANUAL</text>
<text transform="translate(222,240) rotate(-24)" font-size="5" fill="#333">RESET</text>
<path d="M220,246 L238,238" stroke="#333" stroke-width="0.5"/>
<text transform="translate(233,222) rotate(-30)" font-size="4.6" fill="#333" font-style="italic">START+...HOURS</text>
<text transform="translate(330,180) rotate(-30)" font-size="4.6" fill="#333" font-style="italic">FREQUENCY</text>
<path d="M291.40,193.70 C292.20,197.25 294.53,202.77 296.80,205.30 C299.07,207.83 302.30,208.37 305.00,208.90 C307.70,209.43 310.17,209.32 313.00,208.50 C315.83,207.68 319.42,206.08 322.00,204.00 C324.58,201.92 327.20,198.67 328.50,196.00 C329.80,193.33 329.67,190.88 329.80,188.00 C329.93,185.12 329.73,181.12 329.30,178.70 C328.87,176.28 328.42,175.42 327.20,173.50 C325.98,171.58 324.28,168.65 322.00,167.20 C319.72,165.75 316.50,164.75 313.50,164.80 C310.50,164.85 306.92,165.80 304.00,167.50 C301.08,169.20 298.00,172.25 296.00,175.00 C294.00,177.75 292.77,180.88 292.00,184.00 C291.23,187.12 290.60,190.15 291.40,193.70 Z" fill="#bdbdbd" stroke="#111" stroke-width="1.6"/>
<path d="M294.50,193.50 C295.13,196.58 296.88,201.33 298.80,203.50 C300.72,205.67 303.63,206.08 306.00,206.50 C308.37,206.92 310.50,206.75 313.00,206.00 C315.50,205.25 318.67,203.92 321.00,202.00 C323.33,200.08 325.92,197.17 327.00,194.50 C328.08,191.83 327.58,188.67 327.50,186.00 C327.42,183.33 327.08,180.67 326.50,178.50 C325.92,176.33 325.33,174.58 324.00,173.00 C322.67,171.42 320.50,169.83 318.50,169.00 C316.50,168.17 314.42,167.75 312.00,168.00 C309.58,168.25 306.33,169.00 304.00,170.50 C301.67,172.00 299.50,174.58 298.00,177.00 C296.50,179.42 295.58,182.25 295.00,185.00 C294.42,187.75 293.87,190.42 294.50,193.50 Z" fill="#c4c4c4" stroke="#666" stroke-width="0.6"/>
<path d="M297.00,193.50 C297.50,196.17 298.92,200.17 300.50,202.00 C302.08,203.83 304.42,204.17 306.50,204.50 C308.58,204.83 310.75,204.67 313.00,204.00 C315.25,203.33 318.00,202.17 320.00,200.50 C322.00,198.83 324.08,196.33 325.00,194.00 C325.92,191.67 325.58,188.92 325.50,186.50 C325.42,184.08 325.08,181.42 324.50,179.50 C323.92,177.58 323.17,176.33 322.00,175.00 C320.83,173.67 319.25,172.20 317.50,171.50 C315.75,170.80 313.58,170.55 311.50,170.80 C309.42,171.05 306.92,171.72 305.00,173.00 C303.08,174.28 301.25,176.33 300.00,178.50 C298.75,180.67 298.00,183.50 297.50,186.00 C297.00,188.50 296.50,190.83 297.00,193.50 Z" fill="#c8c8c8" stroke="#777" stroke-width="0.5"/>
<path d="M298.5,193 Q298,200 302,204.5 Q305,206 307,205 Q306,198 306.5,192 Q303,189.5 298.5,193 Z" fill="#4a4a4a"/>
<path d="M300,195 L305,193.5 M299.5,198 L305.5,196.5 M300.5,201 L306,199.5" stroke="#2a2a2a" stroke-width="0.5"/>
<ellipse cx="319" cy="192.2" rx="8.7" ry="10.8" transform="rotate(25 319 192.2)" fill="#d2d2d2" stroke="#111" stroke-width="1.5"/>
<ellipse cx="319.3" cy="192.6" rx="6.8" ry="8.9" transform="rotate(25 319.3 192.6)" fill="none" stroke="#888" stroke-width="0.5"/>
<text transform="translate(286,196.5) rotate(-30)" font-size="4" fill="#444" font-style="italic">96</text>
<text transform="translate(287.5,186) rotate(-30)" font-size="4" fill="#444" font-style="italic">12A</text>
<text transform="translate(292.5,175) rotate(-30)" font-size="4" fill="#444" font-style="italic">24A</text>
<text transform="translate(303.5,167.5) rotate(-30)" font-size="4" fill="#444" font-style="italic">36</text>
<text transform="translate(313,163.8) rotate(-30)" font-size="4" fill="#444" font-style="italic">36</text>
<text transform="translate(321.5,163.8) rotate(-30)" font-size="4" fill="#444" font-style="italic">48</text>
<text transform="translate(327.5,168) rotate(-30)" font-size="4" fill="#444" font-style="italic">7D</text>
<g transform="translate(132.0,335.0)">
<path d="M-20.20,8.00 C-20.05,9.50 -20.33,13.50 -19.30,17.00 C-18.27,20.50 -16.38,25.67 -14.00,29.00 C-11.62,32.33 -8.00,35.45 -5.00,37.00 C-2.00,38.55 1.42,38.97 4.00,38.30 C6.58,37.63 8.90,35.38 10.50,33.00 C12.10,30.62 12.98,27.17 13.60,24.00 C14.22,20.83 14.27,17.00 14.20,14.00 C14.13,11.00 13.37,7.33 13.20,6.00" fill="none" stroke="#333" stroke-width="0.6"/>
<ellipse cx="0.8" cy="30.3" rx="4.2" ry="6.2" transform="rotate(-12 0.8 30.3)" fill="none" stroke="#333" stroke-width="0.6"/>
<path d="M-3.2,27.5 Q0,25.5 4.5,27" stroke="#333" stroke-width="0.5" fill="none"/>
<path d="M-20.40,5.10 C-20.57,2.68 -20.23,-0.23 -19.60,-2.90 C-18.97,-5.57 -17.93,-8.45 -16.60,-10.90 C-15.27,-13.35 -13.30,-15.82 -11.60,-17.60 C-9.90,-19.38 -8.27,-20.67 -6.40,-21.60 C-4.53,-22.53 -2.57,-23.02 -0.40,-23.20 C1.77,-23.38 4.30,-23.37 6.60,-22.70 C8.90,-22.03 11.60,-20.67 13.40,-19.20 C15.20,-17.73 16.62,-15.78 17.40,-13.90 C18.18,-12.02 18.10,-7.90 18.10,-7.90 C18.10,-7.90 20.90,-5.65 21.60,-4.40 C22.30,-3.15 22.47,-1.65 22.30,-0.40 C22.13,0.85 20.60,3.10 20.60,3.10 C20.60,3.10 13.60,5.60 13.60,5.60 C13.60,5.60 12.93,9.07 11.80,11.10 C10.67,13.13 8.83,16.13 6.80,17.80 C4.77,19.47 2.13,20.57 -0.40,21.10 C-2.93,21.63 -6.07,21.58 -8.40,21.00 C-10.73,20.42 -12.70,19.17 -14.40,17.60 C-16.10,16.03 -17.60,13.68 -18.60,11.60 C-19.60,9.52 -20.23,7.52 -20.40,5.10 Z" fill="#bebebe" stroke="#141414" stroke-width="1.6" stroke-linejoin="round"/>
<path d="M-13.4,2.6 C-12,-9 -4,-18 6.6,-20.9" fill="none" stroke="#333" stroke-width="0.55"/>
<path d="M-14.4,2.1 L18.6,-6.9" stroke="#333" stroke-width="0.6"/>
<path d="M-14.2,6.4 L19.5,-1.2 L13.4,5.7 L-3,10.6 Q-9,11.6 -14.3,9.4 Z" fill="#c4c4c4"/>
<path d="M-12.8,6.6 L-11,9.8 M-10.8,6.1 L-9,10.4 M-8.8,5.7 L-7.2,10.7 M1.3,3.7 L2.8,7.8 M3.3,3.3 L4.8,7.2 M5.3,2.9 L6.6,6.6" stroke="#efefef" stroke-width="0.9"/>
<path d="M-11.8,6.4 L-10,10.1 M-9.8,5.9 L-8.1,10.6 M2.3,3.5 L3.8,7.5 M4.3,3.1 L5.7,6.9" stroke="#666" stroke-width="0.45"/>
<ellipse cx="-5.6" cy="10.2" rx="2.6" ry="1.2" transform="rotate(-8 -5.6 10.2)" fill="#6a6a6a"/>
<path d="M-15.4,6.1 L20.9,-1.4" stroke="#333" stroke-width="0.6"/>
<path d="M-14.6,9.6 Q-9,12.2 -3,11.1 L13.4,5.7" fill="none" stroke="#161616" stroke-width="1.6"/>
</g>
<text transform="translate(109.5,326.0) rotate(-30)" font-size="4.2" font-style="italic" fill="#2a2a2a">10</text>
<text transform="translate(119.0,315.0) rotate(-30)" font-size="4.2" font-style="italic" fill="#2a2a2a">15</text>
<text transform="translate(131.0,309.0) rotate(-30)" font-size="4.2" font-style="italic" fill="#2a2a2a">20</text>
<text transform="translate(141.0,307.5) rotate(-30)" font-size="4.2" font-style="italic" fill="#2a2a2a">30</text>
<text transform="translate(148.5,312.5) rotate(-30)" font-size="4.2" font-style="italic" fill="#2a2a2a">34</text>
<text transform="translate(107.5,337.0) rotate(-30)" font-size="4.2" font-style="italic" fill="#2a2a2a">5</text>
<text transform="translate(107.5,347.0) rotate(-30)" font-size="4.2" font-style="italic" fill="#2a2a2a">4</text>
<g transform="translate(171.8,312.3)">
<path d="M-20.20,8.00 C-20.05,9.50 -20.33,13.50 -19.30,17.00 C-18.27,20.50 -16.38,25.67 -14.00,29.00 C-11.62,32.33 -8.00,35.45 -5.00,37.00 C-2.00,38.55 1.42,38.97 4.00,38.30 C6.58,37.63 8.90,35.38 10.50,33.00 C12.10,30.62 12.98,27.17 13.60,24.00 C14.22,20.83 14.27,17.00 14.20,14.00 C14.13,11.00 13.37,7.33 13.20,6.00" fill="none" stroke="#333" stroke-width="0.6"/>
<ellipse cx="0.8" cy="30.3" rx="4.2" ry="6.2" transform="rotate(-12 0.8 30.3)" fill="none" stroke="#333" stroke-width="0.6"/>
<path d="M-3.2,27.5 Q0,25.5 4.5,27" stroke="#333" stroke-width="0.5" fill="none"/>
<path d="M-20.40,5.10 C-20.57,2.68 -20.23,-0.23 -19.60,-2.90 C-18.97,-5.57 -17.93,-8.45 -16.60,-10.90 C-15.27,-13.35 -13.30,-15.82 -11.60,-17.60 C-9.90,-19.38 -8.27,-20.67 -6.40,-21.60 C-4.53,-22.53 -2.57,-23.02 -0.40,-23.20 C1.77,-23.38 4.30,-23.37 6.60,-22.70 C8.90,-22.03 11.60,-20.67 13.40,-19.20 C15.20,-17.73 16.62,-15.78 17.40,-13.90 C18.18,-12.02 18.10,-7.90 18.10,-7.90 C18.10,-7.90 20.90,-5.65 21.60,-4.40 C22.30,-3.15 22.47,-1.65 22.30,-0.40 C22.13,0.85 20.60,3.10 20.60,3.10 C20.60,3.10 13.60,5.60 13.60,5.60 C13.60,5.60 12.93,9.07 11.80,11.10 C10.67,13.13 8.83,16.13 6.80,17.80 C4.77,19.47 2.13,20.57 -0.40,21.10 C-2.93,21.63 -6.07,21.58 -8.40,21.00 C-10.73,20.42 -12.70,19.17 -14.40,17.60 C-16.10,16.03 -17.60,13.68 -18.60,11.60 C-19.60,9.52 -20.23,7.52 -20.40,5.10 Z" fill="#bebebe" stroke="#141414" stroke-width="1.6" stroke-linejoin="round"/>
<path d="M-13.4,2.6 C-12,-9 -4,-18 6.6,-20.9" fill="none" stroke="#333" stroke-width="0.55"/>
<path d="M-14.4,2.1 L18.6,-6.9" stroke="#333" stroke-width="0.6"/>
<path d="M-14.2,6.4 L19.5,-1.2 L13.4,5.7 L-3,10.6 Q-9,11.6 -14.3,9.4 Z" fill="#c4c4c4"/>
<path d="M-12.8,6.6 L-11,9.8 M-10.8,6.1 L-9,10.4 M-8.8,5.7 L-7.2,10.7 M1.3,3.7 L2.8,7.8 M3.3,3.3 L4.8,7.2 M5.3,2.9 L6.6,6.6" stroke="#efefef" stroke-width="0.9"/>
<path d="M-11.8,6.4 L-10,10.1 M-9.8,5.9 L-8.1,10.6 M2.3,3.5 L3.8,7.5 M4.3,3.1 L5.7,6.9" stroke="#666" stroke-width="0.45"/>
<ellipse cx="-5.6" cy="10.2" rx="2.6" ry="1.2" transform="rotate(-8 -5.6 10.2)" fill="#6a6a6a"/>
<path d="M-15.4,6.1 L20.9,-1.4" stroke="#333" stroke-width="0.6"/>
<path d="M-14.6,9.6 Q-9,12.2 -3,11.1 L13.4,5.7" fill="none" stroke="#161616" stroke-width="1.6"/>
</g>
<text transform="translate(149.3,303.3) rotate(-30)" font-size="4.2" font-style="italic" fill="#2a2a2a">10</text>
<text transform="translate(158.8,292.3) rotate(-30)" font-size="4.2" font-style="italic" fill="#2a2a2a">15</text>
<text transform="translate(170.8,286.3) rotate(-30)" font-size="4.2" font-style="italic" fill="#2a2a2a">20</text>
<text transform="translate(180.8,284.8) rotate(-30)" font-size="4.2" font-style="italic" fill="#2a2a2a">30</text>
<text transform="translate(188.3,289.8) rotate(-30)" font-size="4.2" font-style="italic" fill="#2a2a2a">34</text>
<text transform="translate(147.3,314.3) rotate(-30)" font-size="4.2" font-style="italic" fill="#2a2a2a">5</text>
<text transform="translate(147.3,324.3) rotate(-30)" font-size="4.2" font-style="italic" fill="#2a2a2a">4</text>
<g transform="translate(211.6,289.6)">
<path d="M-20.20,8.00 C-20.05,9.50 -20.33,13.50 -19.30,17.00 C-18.27,20.50 -16.38,25.67 -14.00,29.00 C-11.62,32.33 -8.00,35.45 -5.00,37.00 C-2.00,38.55 1.42,38.97 4.00,38.30 C6.58,37.63 8.90,35.38 10.50,33.00 C12.10,30.62 12.98,27.17 13.60,24.00 C14.22,20.83 14.27,17.00 14.20,14.00 C14.13,11.00 13.37,7.33 13.20,6.00" fill="none" stroke="#333" stroke-width="0.6"/>
<ellipse cx="0.8" cy="30.3" rx="4.2" ry="6.2" transform="rotate(-12 0.8 30.3)" fill="none" stroke="#333" stroke-width="0.6"/>
<path d="M-3.2,27.5 Q0,25.5 4.5,27" stroke="#333" stroke-width="0.5" fill="none"/>
<path d="M-20.40,5.10 C-20.57,2.68 -20.23,-0.23 -19.60,-2.90 C-18.97,-5.57 -17.93,-8.45 -16.60,-10.90 C-15.27,-13.35 -13.30,-15.82 -11.60,-17.60 C-9.90,-19.38 -8.27,-20.67 -6.40,-21.60 C-4.53,-22.53 -2.57,-23.02 -0.40,-23.20 C1.77,-23.38 4.30,-23.37 6.60,-22.70 C8.90,-22.03 11.60,-20.67 13.40,-19.20 C15.20,-17.73 16.62,-15.78 17.40,-13.90 C18.18,-12.02 18.10,-7.90 18.10,-7.90 C18.10,-7.90 20.90,-5.65 21.60,-4.40 C22.30,-3.15 22.47,-1.65 22.30,-0.40 C22.13,0.85 20.60,3.10 20.60,3.10 C20.60,3.10 13.60,5.60 13.60,5.60 C13.60,5.60 12.93,9.07 11.80,11.10 C10.67,13.13 8.83,16.13 6.80,17.80 C4.77,19.47 2.13,20.57 -0.40,21.10 C-2.93,21.63 -6.07,21.58 -8.40,21.00 C-10.73,20.42 -12.70,19.17 -14.40,17.60 C-16.10,16.03 -17.60,13.68 -18.60,11.60 C-19.60,9.52 -20.23,7.52 -20.40,5.10 Z" fill="#bebebe" stroke="#141414" stroke-width="1.6" stroke-linejoin="round"/>
<path d="M-13.4,2.6 C-12,-9 -4,-18 6.6,-20.9" fill="none" stroke="#333" stroke-width="0.55"/>
<path d="M-14.4,2.1 L18.6,-6.9" stroke="#333" stroke-width="0.6"/>
<path d="M-14.2,6.4 L19.5,-1.2 L13.4,5.7 L-3,10.6 Q-9,11.6 -14.3,9.4 Z" fill="#c4c4c4"/>
<path d="M-12.8,6.6 L-11,9.8 M-10.8,6.1 L-9,10.4 M-8.8,5.7 L-7.2,10.7 M1.3,3.7 L2.8,7.8 M3.3,3.3 L4.8,7.2 M5.3,2.9 L6.6,6.6" stroke="#efefef" stroke-width="0.9"/>
<path d="M-11.8,6.4 L-10,10.1 M-9.8,5.9 L-8.1,10.6 M2.3,3.5 L3.8,7.5 M4.3,3.1 L5.7,6.9" stroke="#666" stroke-width="0.45"/>
<ellipse cx="-5.6" cy="10.2" rx="2.6" ry="1.2" transform="rotate(-8 -5.6 10.2)" fill="#6a6a6a"/>
<path d="M-15.4,6.1 L20.9,-1.4" stroke="#333" stroke-width="0.6"/>
<path d="M-14.6,9.6 Q-9,12.2 -3,11.1 L13.4,5.7" fill="none" stroke="#161616" stroke-width="1.6"/>
</g>
<text transform="translate(189.1,280.6) rotate(-30)" font-size="4.2" font-style="italic" fill="#2a2a2a">10</text>
<text transform="translate(198.6,269.6) rotate(-30)" font-size="4.2" font-style="italic" fill="#2a2a2a">15</text>
<text transform="translate(210.6,263.6) rotate(-30)" font-size="4.2" font-style="italic" fill="#2a2a2a">20</text>
<text transform="translate(220.6,262.1) rotate(-30)" font-size="4.2" font-style="italic" fill="#2a2a2a">30</text>
<text transform="translate(228.1,267.1) rotate(-30)" font-size="4.2" font-style="italic" fill="#2a2a2a">34</text>
<text transform="translate(187.1,291.6) rotate(-30)" font-size="4.2" font-style="italic" fill="#2a2a2a">5</text>
<text transform="translate(187.1,301.6) rotate(-30)" font-size="4.2" font-style="italic" fill="#2a2a2a">4</text>
<g transform="translate(251.4,266.9)">
<path d="M-20.20,8.00 C-20.05,9.50 -20.33,13.50 -19.30,17.00 C-18.27,20.50 -16.38,25.67 -14.00,29.00 C-11.62,32.33 -8.00,35.45 -5.00,37.00 C-2.00,38.55 1.42,38.97 4.00,38.30 C6.58,37.63 8.90,35.38 10.50,33.00 C12.10,30.62 12.98,27.17 13.60,24.00 C14.22,20.83 14.27,17.00 14.20,14.00 C14.13,11.00 13.37,7.33 13.20,6.00" fill="none" stroke="#333" stroke-width="0.6"/>
<ellipse cx="0.8" cy="30.3" rx="4.2" ry="6.2" transform="rotate(-12 0.8 30.3)" fill="none" stroke="#333" stroke-width="0.6"/>
<path d="M-3.2,27.5 Q0,25.5 4.5,27" stroke="#333" stroke-width="0.5" fill="none"/>
<path d="M-20.40,5.10 C-20.57,2.68 -20.23,-0.23 -19.60,-2.90 C-18.97,-5.57 -17.93,-8.45 -16.60,-10.90 C-15.27,-13.35 -13.30,-15.82 -11.60,-17.60 C-9.90,-19.38 -8.27,-20.67 -6.40,-21.60 C-4.53,-22.53 -2.57,-23.02 -0.40,-23.20 C1.77,-23.38 4.30,-23.37 6.60,-22.70 C8.90,-22.03 11.60,-20.67 13.40,-19.20 C15.20,-17.73 16.62,-15.78 17.40,-13.90 C18.18,-12.02 18.10,-7.90 18.10,-7.90 C18.10,-7.90 20.90,-5.65 21.60,-4.40 C22.30,-3.15 22.47,-1.65 22.30,-0.40 C22.13,0.85 20.60,3.10 20.60,3.10 C20.60,3.10 13.60,5.60 13.60,5.60 C13.60,5.60 12.93,9.07 11.80,11.10 C10.67,13.13 8.83,16.13 6.80,17.80 C4.77,19.47 2.13,20.57 -0.40,21.10 C-2.93,21.63 -6.07,21.58 -8.40,21.00 C-10.73,20.42 -12.70,19.17 -14.40,17.60 C-16.10,16.03 -17.60,13.68 -18.60,11.60 C-19.60,9.52 -20.23,7.52 -20.40,5.10 Z" fill="#bebebe" stroke="#141414" stroke-width="1.6" stroke-linejoin="round"/>
<path d="M-13.4,2.6 C-12,-9 -4,-18 6.6,-20.9" fill="none" stroke="#333" stroke-width="0.55"/>
<path d="M-14.4,2.1 L18.6,-6.9" stroke="#333" stroke-width="0.6"/>
<path d="M-14.2,6.4 L19.5,-1.2 L13.4,5.7 L-3,10.6 Q-9,11.6 -14.3,9.4 Z" fill="#c4c4c4"/>
<path d="M-12.8,6.6 L-11,9.8 M-10.8,6.1 L-9,10.4 M-8.8,5.7 L-7.2,10.7 M1.3,3.7 L2.8,7.8 M3.3,3.3 L4.8,7.2 M5.3,2.9 L6.6,6.6" stroke="#efefef" stroke-width="0.9"/>
<path d="M-11.8,6.4 L-10,10.1 M-9.8,5.9 L-8.1,10.6 M2.3,3.5 L3.8,7.5 M4.3,3.1 L5.7,6.9" stroke="#666" stroke-width="0.45"/>
<ellipse cx="-5.6" cy="10.2" rx="2.6" ry="1.2" transform="rotate(-8 -5.6 10.2)" fill="#6a6a6a"/>
<path d="M-15.4,6.1 L20.9,-1.4" stroke="#333" stroke-width="0.6"/>
<path d="M-14.6,9.6 Q-9,12.2 -3,11.1 L13.4,5.7" fill="none" stroke="#161616" stroke-width="1.6"/>
</g>
<text transform="translate(228.9,257.9) rotate(-30)" font-size="4.2" font-style="italic" fill="#2a2a2a">10</text>
<text transform="translate(238.4,246.9) rotate(-30)" font-size="4.2" font-style="italic" fill="#2a2a2a">15</text>
<text transform="translate(250.4,240.9) rotate(-30)" font-size="4.2" font-style="italic" fill="#2a2a2a">20</text>
<text transform="translate(260.4,239.4) rotate(-30)" font-size="4.2" font-style="italic" fill="#2a2a2a">30</text>
<text transform="translate(267.9,244.4) rotate(-30)" font-size="4.2" font-style="italic" fill="#2a2a2a">34</text>
<text transform="translate(226.9,268.9) rotate(-30)" font-size="4.2" font-style="italic" fill="#2a2a2a">5</text>
<text transform="translate(226.9,278.9) rotate(-30)" font-size="4.2" font-style="italic" fill="#2a2a2a">4</text>
<g transform="translate(291.2,244.2)">
<path d="M-20.20,8.00 C-20.05,9.50 -20.33,13.50 -19.30,17.00 C-18.27,20.50 -16.38,25.67 -14.00,29.00 C-11.62,32.33 -8.00,35.45 -5.00,37.00 C-2.00,38.55 1.42,38.97 4.00,38.30 C6.58,37.63 8.90,35.38 10.50,33.00 C12.10,30.62 12.98,27.17 13.60,24.00 C14.22,20.83 14.27,17.00 14.20,14.00 C14.13,11.00 13.37,7.33 13.20,6.00" fill="none" stroke="#333" stroke-width="0.6"/>
<ellipse cx="0.8" cy="30.3" rx="4.2" ry="6.2" transform="rotate(-12 0.8 30.3)" fill="none" stroke="#333" stroke-width="0.6"/>
<path d="M-3.2,27.5 Q0,25.5 4.5,27" stroke="#333" stroke-width="0.5" fill="none"/>
<path d="M-20.40,5.10 C-20.57,2.68 -20.23,-0.23 -19.60,-2.90 C-18.97,-5.57 -17.93,-8.45 -16.60,-10.90 C-15.27,-13.35 -13.30,-15.82 -11.60,-17.60 C-9.90,-19.38 -8.27,-20.67 -6.40,-21.60 C-4.53,-22.53 -2.57,-23.02 -0.40,-23.20 C1.77,-23.38 4.30,-23.37 6.60,-22.70 C8.90,-22.03 11.60,-20.67 13.40,-19.20 C15.20,-17.73 16.62,-15.78 17.40,-13.90 C18.18,-12.02 18.10,-7.90 18.10,-7.90 C18.10,-7.90 20.90,-5.65 21.60,-4.40 C22.30,-3.15 22.47,-1.65 22.30,-0.40 C22.13,0.85 20.60,3.10 20.60,3.10 C20.60,3.10 13.60,5.60 13.60,5.60 C13.60,5.60 12.93,9.07 11.80,11.10 C10.67,13.13 8.83,16.13 6.80,17.80 C4.77,19.47 2.13,20.57 -0.40,21.10 C-2.93,21.63 -6.07,21.58 -8.40,21.00 C-10.73,20.42 -12.70,19.17 -14.40,17.60 C-16.10,16.03 -17.60,13.68 -18.60,11.60 C-19.60,9.52 -20.23,7.52 -20.40,5.10 Z" fill="#bebebe" stroke="#141414" stroke-width="1.6" stroke-linejoin="round"/>
<path d="M-13.4,2.6 C-12,-9 -4,-18 6.6,-20.9" fill="none" stroke="#333" stroke-width="0.55"/>
<path d="M-14.4,2.1 L18.6,-6.9" stroke="#333" stroke-width="0.6"/>
<path d="M-14.2,6.4 L19.5,-1.2 L13.4,5.7 L-3,10.6 Q-9,11.6 -14.3,9.4 Z" fill="#c4c4c4"/>
<path d="M-12.8,6.6 L-11,9.8 M-10.8,6.1 L-9,10.4 M-8.8,5.7 L-7.2,10.7 M1.3,3.7 L2.8,7.8 M3.3,3.3 L4.8,7.2 M5.3,2.9 L6.6,6.6" stroke="#efefef" stroke-width="0.9"/>
<path d="M-11.8,6.4 L-10,10.1 M-9.8,5.9 L-8.1,10.6 M2.3,3.5 L3.8,7.5 M4.3,3.1 L5.7,6.9" stroke="#666" stroke-width="0.45"/>
<ellipse cx="-5.6" cy="10.2" rx="2.6" ry="1.2" transform="rotate(-8 -5.6 10.2)" fill="#6a6a6a"/>
<path d="M-15.4,6.1 L20.9,-1.4" stroke="#333" stroke-width="0.6"/>
<path d="M-14.6,9.6 Q-9,12.2 -3,11.1 L13.4,5.7" fill="none" stroke="#161616" stroke-width="1.6"/>
</g>
<text transform="translate(268.7,235.2) rotate(-30)" font-size="4.2" font-style="italic" fill="#2a2a2a">10</text>
<text transform="translate(278.2,224.2) rotate(-30)" font-size="4.2" font-style="italic" fill="#2a2a2a">15</text>
<text transform="translate(290.2,218.2) rotate(-30)" font-size="4.2" font-style="italic" fill="#2a2a2a">20</text>
<text transform="translate(300.2,216.7) rotate(-30)" font-size="4.2" font-style="italic" fill="#2a2a2a">30</text>
<text transform="translate(307.7,221.7) rotate(-30)" font-size="4.2" font-style="italic" fill="#2a2a2a">34</text>
<text transform="translate(266.7,246.2) rotate(-30)" font-size="4.2" font-style="italic" fill="#2a2a2a">5</text>
<text transform="translate(266.7,256.2) rotate(-30)" font-size="4.2" font-style="italic" fill="#2a2a2a">4</text>
<g transform="translate(331.0,221.5)">
<path d="M-20.20,8.00 C-20.05,9.50 -20.33,13.50 -19.30,17.00 C-18.27,20.50 -16.38,25.67 -14.00,29.00 C-11.62,32.33 -8.00,35.45 -5.00,37.00 C-2.00,38.55 1.42,38.97 4.00,38.30 C6.58,37.63 8.90,35.38 10.50,33.00 C12.10,30.62 12.98,27.17 13.60,24.00 C14.22,20.83 14.27,17.00 14.20,14.00 C14.13,11.00 13.37,7.33 13.20,6.00" fill="none" stroke="#333" stroke-width="0.6"/>
<ellipse cx="0.8" cy="30.3" rx="4.2" ry="6.2" transform="rotate(-12 0.8 30.3)" fill="none" stroke="#333" stroke-width="0.6"/>
<path d="M-3.2,27.5 Q0,25.5 4.5,27" stroke="#333" stroke-width="0.5" fill="none"/>
<path d="M-20.40,5.10 C-20.57,2.68 -20.23,-0.23 -19.60,-2.90 C-18.97,-5.57 -17.93,-8.45 -16.60,-10.90 C-15.27,-13.35 -13.30,-15.82 -11.60,-17.60 C-9.90,-19.38 -8.27,-20.67 -6.40,-21.60 C-4.53,-22.53 -2.57,-23.02 -0.40,-23.20 C1.77,-23.38 4.30,-23.37 6.60,-22.70 C8.90,-22.03 11.60,-20.67 13.40,-19.20 C15.20,-17.73 16.62,-15.78 17.40,-13.90 C18.18,-12.02 18.10,-7.90 18.10,-7.90 C18.10,-7.90 20.90,-5.65 21.60,-4.40 C22.30,-3.15 22.47,-1.65 22.30,-0.40 C22.13,0.85 20.60,3.10 20.60,3.10 C20.60,3.10 13.60,5.60 13.60,5.60 C13.60,5.60 12.93,9.07 11.80,11.10 C10.67,13.13 8.83,16.13 6.80,17.80 C4.77,19.47 2.13,20.57 -0.40,21.10 C-2.93,21.63 -6.07,21.58 -8.40,21.00 C-10.73,20.42 -12.70,19.17 -14.40,17.60 C-16.10,16.03 -17.60,13.68 -18.60,11.60 C-19.60,9.52 -20.23,7.52 -20.40,5.10 Z" fill="#bebebe" stroke="#141414" stroke-width="1.6" stroke-linejoin="round"/>
<path d="M-13.4,2.6 C-12,-9 -4,-18 6.6,-20.9" fill="none" stroke="#333" stroke-width="0.55"/>
<path d="M-14.4,2.1 L18.6,-6.9" stroke="#333" stroke-width="0.6"/>
<path d="M-14.2,6.4 L19.5,-1.2 L13.4,5.7 L-3,10.6 Q-9,11.6 -14.3,9.4 Z" fill="#c4c4c4"/>
<path d="M-12.8,6.6 L-11,9.8 M-10.8,6.1 L-9,10.4 M-8.8,5.7 L-7.2,10.7 M1.3,3.7 L2.8,7.8 M3.3,3.3 L4.8,7.2 M5.3,2.9 L6.6,6.6" stroke="#efefef" stroke-width="0.9"/>
<path d="M-11.8,6.4 L-10,10.1 M-9.8,5.9 L-8.1,10.6 M2.3,3.5 L3.8,7.5 M4.3,3.1 L5.7,6.9" stroke="#666" stroke-width="0.45"/>
<ellipse cx="-5.6" cy="10.2" rx="2.6" ry="1.2" transform="rotate(-8 -5.6 10.2)" fill="#6a6a6a"/>
<path d="M-15.4,6.1 L20.9,-1.4" stroke="#333" stroke-width="0.6"/>
<path d="M-14.6,9.6 Q-9,12.2 -3,11.1 L13.4,5.7" fill="none" stroke="#161616" stroke-width="1.6"/>
</g>
<text transform="translate(308.5,212.5) rotate(-30)" font-size="4.2" font-style="italic" fill="#2a2a2a">10</text>
<text transform="translate(318.0,201.5) rotate(-30)" font-size="4.2" font-style="italic" fill="#2a2a2a">15</text>
<text transform="translate(330.0,195.5) rotate(-30)" font-size="4.2" font-style="italic" fill="#2a2a2a">20</text>
<text transform="translate(340.0,194.0) rotate(-30)" font-size="4.2" font-style="italic" fill="#2a2a2a">30</text>
<text transform="translate(347.5,199.0) rotate(-30)" font-size="4.2" font-style="italic" fill="#2a2a2a">34</text>
<text transform="translate(306.5,223.5) rotate(-30)" font-size="4.2" font-style="italic" fill="#2a2a2a">5</text>
<text transform="translate(306.5,233.5) rotate(-30)" font-size="4.2" font-style="italic" fill="#2a2a2a">4</text>
<path d="M158.5,373.8 L221.4,339 L224.8,345.7 L161.9,380.6 Z" fill="#a4a4a4" stroke="#222" stroke-width="0.8"/>
<path d="M160.2,377.2 L223.1,342.4" stroke="#2a2a2a" stroke-width="3" stroke-dasharray="1.3 1.1 0.7 1.6"/>
<path d="M160.5,376.2 L222.5,341.8" stroke="#eeeeee" stroke-width="0.9" stroke-dasharray="0.9 2.2"/>
<path d="M160.0,381.8 L242.4,335.0" stroke="#222" stroke-width="0.6" fill="none"/>
<path d="M239.5,326.2 L280.0,345.6" stroke="#222" stroke-width="0.6" fill="none"/>
<path d="M240.0,328.2 L280.0,347.4" stroke="#222" stroke-width="0.6" fill="none"/>
<path d="M257.5,332.0 L283.0,318.0" stroke="#222" stroke-width="0.6" fill="none"/>
<path d="M258.5,333.8 L284.0,319.8" stroke="#222" stroke-width="0.6" fill="none"/>
<path d="M280.0,345.6 L303.9,333.0" stroke="#222" stroke-width="0.6" fill="none"/>
<path d="M280.5,347.3 L304.4,334.8" stroke="#222" stroke-width="0.6" fill="none"/>
<path d="M265.0,310.4 L303.9,333.0" stroke="#222" stroke-width="0.6" fill="none"/>
<path d="M310.0,286.5 L336.9,301.5" stroke="#222" stroke-width="0.6" fill="none"/>
<path d="M309.0,288.8 L335.9,303.8" stroke="#222" stroke-width="0.6" fill="none"/>
<path d="M242.4,335.0 L262.0,323.5" stroke="#222" stroke-width="0.6" fill="none"/>
<path d="M91,400 L122,409 M94,407.5 L137,424.8 L139,426.5 L91,446" fill="none" stroke="#333" stroke-width="0.6"/>
<path d="M124.5,416 L124.5,439 A23.3,10.5 0 0 0 171,439 L171,416 Z" fill="#f1f1f1" stroke="#222" stroke-width="0.8"/>
<path d="M121,416 A27.3,12 0 0 0 175.5,416 M121.5,420 A26.8,11.5 0 0 0 175,420 M122.5,424 A26,11 0 0 0 174,424 M124.5,428 A23.3,10 0 0 0 171,428" fill="none" stroke="#333" stroke-width="0.6"/>
<path d="M120.5,405.8 L120.5,412 A27.6,15 0 0 0 175.8,412 L175.8,405.8 Z" fill="#f1f1f1" stroke="#222" stroke-width="0.8"/>
<ellipse cx="148.2" cy="405.8" rx="27.6" ry="15" fill="#f1f1f1" stroke="#222" stroke-width="0.9"/>
<ellipse cx="150.5" cy="407" rx="19.5" ry="9" fill="#f5f5f5" stroke="#222" stroke-width="0.9"/>
<path d="M127.6,391 L130.8,389.5 L130.8,397 L127.6,398.5 Z" fill="#bbb" stroke="#444" stroke-width="0.4"/>
<path d="M145,382 L148,387 L144,386 Z" fill="#333"/>
</g>
<path d="M0.7,0 L4.5,0 M5.2,0.7 L5.2,7.4 M5.2,8.6 L5.2,15.3 M4.5,16 L0.7,16 M0,15.3 L0,8.6 M0,7.4 L0,0.7" transform="matrix(1,-0.55,-0.06,1,518.8,419.4)" fill="none" stroke="#1a1a1a" stroke-width="1.8" stroke-linecap="butt"/>
<path d="M0.7,0 L4.5,0 M0,0.7 L0,7.4 M0,8.6 L0,15.3 M0.7,8 L4.2,8" transform="matrix(1,-0.55,-0.06,1,527.1,415)" fill="none" stroke="#1a1a1a" stroke-width="1.8" stroke-linecap="butt"/>
<path d="M0.7,0 L4.5,0 M0,0.7 L0,7.4 M0,8.6 L0,15.3 M0.7,8 L4.2,8" transform="matrix(1,-0.55,-0.06,1,535.4,410.6)" fill="none" stroke="#1a1a1a" stroke-width="1.8" stroke-linecap="butt"/>
<path d="M470,405 L473,420 C485,440 500,456 520,463 C545,469 590,463 626.8,452.4 C603,458 578,466 572,479 C568,488 578,495 593,501 C606,505.5 619,507.5 630.2,508.5 C600,503 565,500 550,512 C543,522 542,535 544.8,545 L539.2,545 C535,530 525,515 510,510 C490,507 478,510 470,514 Z" fill="#fff" fill-opacity="0.62"/>
<path d="M603,475 L668.6,437.5 L670,456.8 L606,492.5 L601,494.3 Q596.3,494 596.5,487 L596.8,481 Q597.5,477 603,475 Z" fill="url(#bd2)" stroke="#111" stroke-width="1"/>
<path d="M610,472 L621.2,466 L621.2,483.7 L610,490 Z" fill="#e0865e"/>
<path d="M606,474 L606,492.3" stroke="#6a6a6a" stroke-width="1"/>
<path d="M667.4,490 C665,475 660,460 649.3,446" fill="none" stroke="#333" stroke-width="3.4"/>
<path d="M667.4,490 C665,475 660,460 649.3,446" fill="none" stroke="#d40000" stroke-width="1.2" transform="translate(0.9,0.2)"/>
<path d="M667,485 L721,463 Q729,461 729,468 L729,503 L686,529 L676,532 L676,496 Z" fill="#333" stroke="#111" stroke-width="1.2" stroke-linejoin="round"/>
<path d="M686,491 L729,468 L729,503 L686,529 Z" fill="url(#bd3)"/>
<path d="M686,491 L728.5,468.2" stroke="#6e6e6e" stroke-width="0.9"/>
<path d="M666.5,486.5 L673,484.2 L686,490.5 L686,529 L674,531.5 L674,495 Z" fill="#e0865e"/>
<path d="M673,484.5 L686,490.8" stroke="#a85a38" stroke-width="0.6"/>
<path d="M686,490.5 L686,529" stroke="#6a3a20" stroke-width="0.6"/>
<rect x="656.2" y="489" width="20.6" height="45.5" rx="9.5" fill="#3a3a3a" stroke="#111" stroke-width="1.4"/>
<path d="M669.5,490.5 Q673.8,496 673.8,504 L673.8,525 Q673.5,531 669,533.5" fill="none" stroke="#222" stroke-width="0.7"/>
<path d="M662.5,490.5 L665,487.5 L670.5,487.5 L672.5,490.5 Z" fill="#333" stroke="#111" stroke-width="0.8"/>
<path d="M678.5,440 L701.5,439.5 L697.5,444.5 L719,461 L709,469 L686.5,455 L679,458.5 Z" fill="#6b6b6b" stroke="#fff" stroke-width="2.2" stroke-linejoin="miter" paint-order="stroke"/>
</g>
<path d="M473,420 C485,440 500,456 520,463 C545,469 590,463 626.8,452.4" fill="none" stroke="#1a1a1a" stroke-width="1.1"/>
<path d="M626.8,452.4 C603,458 578,466 572,479 C568,488 578,495 593,501 C606,505.5 619,507.5 630.2,508.5" fill="none" stroke="#1a1a1a" stroke-width="1.1"/>
<path d="M630.2,508.5 C600,503 565,500 550,512 C543,522 542,535 544.8,548" fill="none" stroke="#1a1a1a" stroke-width="1.1"/>
<path d="M539.2,548 C535,530 525,515 510,510 C490,507 470,512 442.3,527.4" fill="none" stroke="#1a1a1a" stroke-width="1.1"/>
<path d="M443.2,481.6 C455,484 466,490 466,498 C466,508 450,522 419.6,535.3" fill="none" stroke="#1a1a1a" stroke-width="1.1"/>
<path d="M436.2,478.8 C455,478 470,475 478,468 C485,460 486,448 484.3,440 C482,432 478,425 473,420" fill="none" stroke="#1a1a1a" stroke-width="1.1"/>
<path d="M459.5,403 L459.5,322.5 L749.5,322.5 L749.5,549.5 L459.5,549.5 L459.5,432 L298,343.5 Z" fill="none" stroke="#1a1a1a" stroke-width="3" stroke-linejoin="miter"/>
<path d="M720.4,508.7 C723,506.8 726.5,505.9 729.5,505.9 C735,505.9 738.6,509.5 738.6,514.7 C738.6,518.5 737,521.3 735,523.7 L728.8,532.5 L738.9,532.5 L738.9,537.7 L720,537.7 L720,532.8 L728,524.4 C730.5,521.6 732.6,518.8 732.6,516 C732.6,512.8 730.6,510.9 727.6,510.9 C725.5,510.9 723.6,511.9 722.1,513.6 Z" fill="#1c1c1c"/>
<text x="477" y="501.5" font-weight="bold" font-style="italic" font-size="36" fill="#1a1a1a" stroke="#1a1a1a" stroke-width="0.9" textLength="78" lengthAdjust="spacingAndGlyphs">click!</text>
</svg>
</body></html>
